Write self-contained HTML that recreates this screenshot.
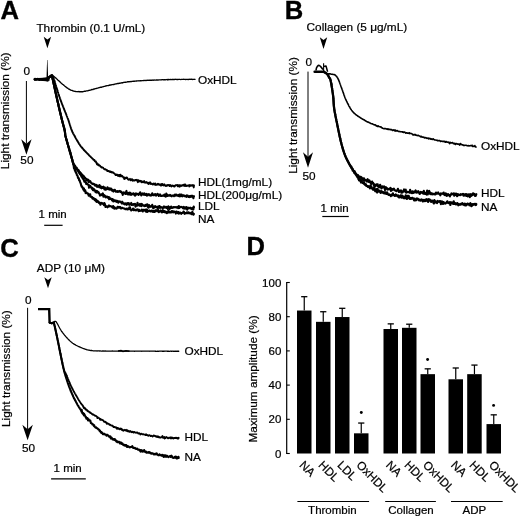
<!DOCTYPE html>
<html><head><meta charset="utf-8"><style>
html,body{margin:0;padding:0;background:#fff;}
svg{display:block;will-change:transform;}
text{font-family:"Liberation Sans",sans-serif;fill:#000;stroke:#000;stroke-width:0.22px;}
</style></head><body>
<svg width="520" height="517" viewBox="0 0 520 517">
<rect width="520" height="517" fill="#fff"/>
<text x="0.4" y="18.6" font-size="25.6" text-anchor="start" font-weight="bold" style="stroke-width:0.35px">A</text>
<text x="36.4" y="31.5" font-size="11.8" text-anchor="start" font-weight="normal" >Thrombin (0.1 U/mL)</text>
<path d="M43.699999999999996 36.7 L47.4 39.5 L51.1 36.7 L47.4 48.2 Z" fill="#000"/>
<text x="26.7" y="75.3" font-size="11.8" text-anchor="middle" font-weight="normal" >0</text>
<line x1="26.4" y1="81" x2="26.4" y2="143.7" stroke="#000" stroke-width="1"/>
<path d="M21.2 139.2 L26.4 143.7 L31.599999999999998 139.2 L26.4 154.8 Z" fill="#000"/>
<text x="26.9" y="164.4" font-size="11.8" text-anchor="middle" font-weight="normal" >50</text>
<text transform="translate(9.2,110.8) rotate(-90)" font-size="11.8" text-anchor="middle">Light transmission (%)</text>
<path d="M34.70 79.33 L35.01 79.38 L35.41 79.33 L35.88 79.17 L36.40 79.39 L36.98 79.34 L37.58 79.25 L38.19 79.36 L38.81 79.34 L39.42 79.33 L40.00 79.30 L40.49 79.36 L40.99 79.25 L41.52 79.33 L42.06 79.32 L42.60 79.45 L43.14 79.42 L43.68 79.40 L44.20 79.36 L44.69 79.40 L45.17 79.40 L45.60 79.34 L46.00 79.43 L46.68 79.21 L47.24 78.57 L47.71 78.33 L48.14 78.16 L48.56 77.78 L49.00 77.52 L49.44 77.16 L49.85 76.93 L50.24 76.19 L50.65 75.90 L51.10 75.88 L51.60 75.66 L52.00 75.71 L52.39 75.70 L52.80 75.75 L53.23 76.16 L53.70 76.45 L54.23 76.69 L54.82 77.20 L55.50 77.79 L55.80 77.95 L56.12 78.30 L56.45 78.61 L56.80 78.92 L57.16 79.20 L57.53 79.66 L57.91 80.05 L58.30 80.36 L58.70 80.63 L59.11 81.17 L59.52 81.44 L59.93 81.97 L60.35 82.17 L60.76 82.76 L61.18 83.05 L61.59 83.30 L62.00 83.76 L62.41 84.15 L62.81 84.51 L63.20 84.70 L63.63 85.03 L64.06 85.51 L64.50 85.79 L64.93 86.21 L65.36 86.60 L65.80 86.70 L66.23 87.22 L66.67 87.65 L67.10 87.81 L67.53 88.07 L67.97 88.53 L68.40 88.77 L68.84 89.12 L69.27 89.26 L69.70 89.40 L70.14 89.77 L70.57 89.95 L71.00 90.28 L71.52 90.44 L72.03 90.45 L72.55 90.67 L73.06 91.03 L73.57 91.14 L74.09 91.12 L74.60 91.29 L75.11 91.42 L75.62 91.49 L76.14 91.60 L76.65 91.59 L77.16 91.59 L77.67 91.61 L78.19 91.78 L78.70 91.47 L79.20 91.71 L79.68 91.74 L80.15 91.60 L80.60 91.78 L81.05 91.67 L81.50 91.80 L81.95 91.67 L82.42 91.71 L82.90 91.71 L83.40 91.56 L83.92 91.36 L84.48 91.20 L85.08 91.43 L85.72 91.12 L86.40 90.93 L86.79 90.94 L87.20 90.81 L87.63 90.82 L88.07 90.64 L88.53 90.53 L89.00 90.34 L89.48 90.34 L89.97 90.07 L90.48 90.11 L90.99 90.06 L91.50 89.62 L92.03 89.39 L92.55 89.55 L93.08 89.60 L93.61 89.11 L94.14 88.94 L94.67 88.98 L95.20 88.69 L95.72 88.58 L96.23 88.46 L96.74 88.41 L97.24 88.18 L97.74 88.12 L98.22 87.94 L98.68 87.75 L99.14 87.69 L99.58 87.51 L100.00 87.50 L100.59 87.24 L101.15 87.10 L101.68 87.22 L102.18 86.94 L102.66 86.82 L103.13 86.76 L103.58 86.55 L104.03 86.45 L104.47 86.41 L104.91 86.29 L105.35 86.03 L105.81 86.12 L106.28 85.87 L106.76 85.71 L107.27 85.61 L107.80 85.55 L108.36 85.62 L108.96 85.22 L109.60 85.22 L110.01 84.90 L110.43 85.03 L110.87 85.03 L111.32 84.82 L111.78 84.69 L112.24 84.68 L112.72 84.63 L113.21 84.52 L113.70 84.55 L114.21 84.28 L114.71 84.10 L115.23 84.04 L115.75 83.94 L116.27 83.86 L116.79 83.74 L117.32 83.66 L117.85 83.37 L118.38 83.52 L118.91 83.28 L119.44 83.13 L119.97 83.21 L120.49 83.18 L121.02 83.01 L121.54 82.88 L122.05 82.68 L122.56 82.98 L123.06 82.69 L123.56 82.41 L124.05 82.37 L124.53 82.38 L125.00 82.14 L125.53 82.24 L126.05 82.10 L126.55 82.20 L127.05 82.10 L127.54 81.67 L128.02 81.88 L128.49 81.66 L128.96 81.87 L129.43 81.72 L129.89 81.70 L130.36 81.49 L130.82 81.73 L131.28 81.70 L131.75 81.35 L132.21 81.44 L132.69 81.29 L133.16 81.31 L133.65 81.15 L134.14 81.42 L134.64 81.09 L135.15 81.12 L135.68 81.16 L136.21 81.00 L136.76 81.00 L137.32 80.93 L137.90 80.93 L138.50 80.78 L138.93 80.83 L139.38 80.82 L139.82 80.78 L140.28 80.79 L140.74 80.73 L141.21 80.80 L141.69 80.67 L142.17 80.66 L142.65 80.58 L143.15 80.57 L143.64 80.47 L144.14 80.62 L144.65 80.43 L145.15 80.44 L145.67 80.53 L146.18 80.51 L146.70 80.41 L147.22 80.22 L147.74 80.44 L148.27 80.40 L148.80 80.21 L149.32 80.41 L149.85 80.24 L150.38 80.18 L150.91 80.28 L151.44 80.23 L151.97 80.24 L152.50 80.04 L153.03 80.36 L153.56 80.10 L154.08 79.99 L154.61 80.18 L155.13 80.06 L155.65 80.11 L156.17 80.03 L156.68 80.03 L157.19 80.04 L157.70 79.93 L158.21 80.05 L158.71 79.91 L159.22 79.85 L159.73 79.93 L160.23 79.95 L160.74 79.86 L161.25 79.78 L161.76 79.91 L162.27 79.65 L162.78 79.70 L163.29 79.79 L163.80 79.63 L164.31 79.75 L164.82 79.73 L165.33 79.80 L165.84 79.60 L166.35 79.62 L166.86 79.69 L167.37 79.40 L167.88 79.94 L168.39 79.54 L168.89 79.52 L169.40 79.67 L169.91 79.56 L170.41 79.37 L170.92 79.60 L171.42 79.61 L171.93 79.46 L172.43 79.47 L172.93 79.53 L173.43 79.38 L173.93 79.50 L174.43 79.47 L174.93 79.37 L175.42 79.29 L175.92 79.39 L176.41 79.32 L176.90 79.50 L177.42 79.41 L177.96 79.46 L178.50 79.39 L179.06 79.40 L179.62 79.29 L180.19 79.43 L180.76 79.54 L181.34 79.33 L181.93 79.30 L182.51 79.34 L183.10 79.31 L183.69 79.29 L184.27 79.37 L184.86 79.33 L185.44 79.50 L186.01 79.36 L186.58 79.39 L187.15 79.46 L187.71 79.33 L188.26 79.51 L188.80 79.31 L189.33 79.29 L189.84 79.34 L190.35 79.37 L190.84 79.24 L191.31 79.38 L191.77 79.22 L192.22 79.53 L192.64 79.38 L193.04 79.33 L193.43 79.30 L193.79 79.36 L194.13 79.38 L194.44 79.29 L194.74 79.31 L195.00 79.38" fill="none" stroke="#000" stroke-width="1.35" stroke-linejoin="round" stroke-linecap="round" />
<path d="M34.70 79.32 L35.01 79.26 L35.41 79.27 L35.88 79.10 L36.40 79.44 L36.98 79.39 L37.58 79.27 L38.19 79.36 L38.81 79.32 L39.42 79.26 L40.00 79.38 L40.49 79.28 L40.99 79.29 L41.52 79.28 L42.06 79.40 L42.60 79.38 L43.14 79.46 L43.68 79.38 L44.20 79.44 L44.69 79.36 L45.17 79.47 L45.60 79.38 L46.00 79.33 L46.68 79.14 L47.24 78.76 L47.71 78.58 L48.14 78.34 L48.56 77.70 L49.00 77.36 L49.47 77.02 L49.93 76.80 L50.38 76.33 L50.81 76.04 L51.22 75.76 L51.60 75.62 L51.92 75.45 L52.10 75.15 L52.30 75.24 L52.65 75.73 L53.30 77.47 L53.40 77.79 L53.50 78.21 L53.61 78.32 L53.72 78.62 L53.84 79.01 L53.96 79.50 L54.08 79.78 L54.21 80.30 L54.34 80.46 L54.48 81.12 L54.62 81.55 L54.76 81.81 L54.90 82.39 L55.05 82.95 L55.20 83.35 L55.36 83.91 L55.51 84.53 L55.67 84.87 L55.83 85.35 L55.99 85.83 L56.15 86.48 L56.32 86.95 L56.49 87.49 L56.65 88.04 L56.82 88.65 L56.99 89.07 L57.17 89.58 L57.34 90.07 L57.51 90.91 L57.69 91.38 L57.86 92.04 L58.04 92.47 L58.21 92.97 L58.38 93.61 L58.56 94.11 L58.73 94.55 L58.91 95.11 L59.08 95.85 L59.25 96.26 L59.43 96.77 L59.60 97.22 L59.77 97.68 L59.93 98.30 L60.10 98.69 L60.27 99.12 L60.45 99.66 L60.62 100.08 L60.80 100.66 L60.99 101.23 L61.17 101.57 L61.36 102.25 L61.55 102.58 L61.74 103.15 L61.93 103.57 L62.12 104.12 L62.32 104.64 L62.52 105.11 L62.71 105.59 L62.91 106.09 L63.11 106.58 L63.31 107.02 L63.50 107.62 L63.70 108.17 L63.90 108.71 L64.10 109.18 L64.29 109.82 L64.49 110.13 L64.68 110.55 L64.87 111.22 L65.07 111.46 L65.25 112.10 L65.44 112.41 L65.63 112.98 L65.81 113.26 L65.99 113.94 L66.17 114.30 L66.35 114.68 L66.52 115.33 L66.69 115.69 L66.85 116.05 L67.02 116.40 L67.17 116.87 L67.33 117.26 L67.48 117.73 L67.62 118.12 L67.76 118.38 L67.90 118.76 L68.14 119.43 L68.37 120.01 L68.59 120.69 L68.80 121.33 L68.99 121.98 L69.17 122.59 L69.35 122.97 L69.52 123.60 L69.68 124.03 L69.83 124.73 L69.98 125.04 L70.12 125.55 L70.26 125.89 L70.39 126.34 L70.53 126.86 L70.66 127.23 L70.79 127.70 L70.92 127.95 L71.05 128.52 L71.18 128.79 L71.32 129.38 L71.46 129.60 L71.60 130.09 L71.85 130.51 L72.08 131.21 L72.29 131.60 L72.49 132.08 L72.69 132.54 L72.89 132.90 L73.09 133.33 L73.30 133.75 L73.52 134.13 L73.75 134.49 L74.01 134.84 L74.29 135.38 L74.60 135.98 L74.81 136.20 L75.02 136.83 L75.25 137.15 L75.48 137.57 L75.72 138.10 L75.96 138.53 L76.21 138.94 L76.47 139.31 L76.73 139.88 L77.00 140.35 L77.27 140.73 L77.54 141.36 L77.82 141.79 L78.10 142.06 L78.38 142.69 L78.67 143.04 L78.95 143.69 L79.24 144.11 L79.53 144.39 L79.81 144.82 L80.10 145.31 L80.42 145.71 L80.73 146.28 L81.05 146.62 L81.37 146.94 L81.69 147.40 L82.01 147.58 L82.34 148.15 L82.67 148.57 L83.00 148.86 L83.34 149.18 L83.68 149.66 L84.02 150.14 L84.37 150.37 L84.73 150.64 L85.09 151.23 L85.46 151.35 L85.83 151.93 L86.21 152.24 L86.60 152.77 L86.93 152.98 L87.28 153.51 L87.63 153.80 L88.00 154.01 L88.38 154.38 L88.76 154.90 L89.16 155.42 L89.55 155.72 L89.95 156.11 L90.35 156.48 L90.75 156.95 L91.15 157.31 L91.54 157.69 L91.94 157.98 L92.32 158.53 L92.70 158.91 L93.07 159.06 L93.43 159.71 L93.77 159.92 L94.10 160.05 L94.42 159.94 L94.72 161.01 L95.00 161.27 L95.48 161.42 L95.87 161.51 L96.21 162.79 L96.49 162.64 L96.75 163.01 L96.99 164.33 L97.24 164.42 L97.51 164.38 L97.81 164.27 L98.17 164.94 L98.59 164.42 L99.10 165.53 L99.43 165.51 L99.77 165.60 L100.13 165.77 L100.50 166.66 L100.89 166.79 L101.29 167.07 L101.70 167.55 L102.12 167.31 L102.56 167.47 L103.00 167.58 L103.46 168.29 L103.92 168.89 L104.40 168.90 L104.88 169.41 L105.37 169.14 L105.86 169.63 L106.36 169.81 L106.86 169.94 L107.37 171.14 L107.88 171.10 L108.40 170.87 L108.82 171.08 L109.26 171.50 L109.71 171.30 L110.17 172.07 L110.64 171.45 L111.12 172.17 L111.60 172.02 L112.09 172.54 L112.59 172.28 L113.09 172.36 L113.59 172.91 L114.10 173.28 L114.61 173.70 L115.11 174.11 L115.62 175.12 L116.12 174.93 L116.62 174.54 L117.12 175.27 L117.61 174.69 L118.09 176.06 L118.57 175.75 L119.04 174.88 L119.50 176.22 L119.94 176.42 L120.38 174.66 L120.80 175.89 L121.35 176.25 L121.88 175.65 L122.39 176.31 L122.88 176.56 L123.35 177.54 L123.81 177.59 L124.26 179.03 L124.70 177.52 L125.14 178.52 L125.58 178.08 L126.02 178.33 L126.46 177.68 L126.92 177.41 L127.38 178.17 L127.86 179.15 L128.36 179.74 L128.88 179.34 L129.43 179.43 L130.00 178.84 L130.43 180.25 L130.88 180.25 L131.34 179.33 L131.80 179.70 L132.28 179.28 L132.76 180.74 L133.25 180.26 L133.75 180.09 L134.25 180.47 L134.76 180.59 L135.27 180.22 L135.79 179.86 L136.31 179.94 L136.84 179.79 L137.36 181.10 L137.89 182.16 L138.42 180.10 L138.95 181.21 L139.48 181.46 L140.00 180.79 L140.53 181.54 L141.05 180.92 L141.57 182.28 L142.08 181.38 L142.60 181.86 L143.10 182.28 L143.60 181.76 L144.10 181.10 L144.60 181.89 L145.10 182.70 L145.60 182.33 L146.10 182.60 L146.60 181.97 L147.10 182.74 L147.60 183.16 L148.10 182.87 L148.60 184.00 L149.10 182.92 L149.60 182.56 L150.10 182.33 L150.60 183.95 L151.10 183.37 L151.60 184.05 L152.10 183.83 L152.60 184.55 L153.10 184.44 L153.60 183.62 L154.10 184.05 L154.60 184.58 L155.10 183.38 L155.60 184.93 L156.10 184.87 L156.59 184.81 L157.07 184.22 L157.54 184.57 L157.99 183.85 L158.44 184.56 L158.88 184.27 L159.31 184.70 L159.74 184.43 L160.17 184.92 L160.60 185.47 L161.03 184.15 L161.47 185.43 L161.91 183.88 L162.37 183.84 L162.83 185.01 L163.30 185.12 L163.80 185.41 L164.30 184.30 L164.83 185.22 L165.38 185.36 L165.95 186.02 L166.54 185.31 L167.16 185.69 L167.81 184.90 L168.49 185.37 L169.20 185.25 L169.60 185.90 L170.01 184.99 L170.45 185.09 L170.90 185.88 L171.37 186.56 L171.85 185.80 L172.35 185.76 L172.86 185.42 L173.38 186.22 L173.92 185.93 L174.46 186.59 L175.02 185.83 L175.58 185.14 L176.16 185.35 L176.74 185.13 L177.32 184.99 L177.91 186.38 L178.51 186.14 L179.11 185.02 L179.71 186.69 L180.31 185.85 L180.91 185.19 L181.52 185.94 L182.12 185.69 L182.72 185.31 L183.31 184.67 L183.91 185.76 L184.49 185.91 L185.07 184.33 L185.65 186.06 L186.21 186.09 L186.77 185.50 L187.32 185.82 L187.86 185.61 L188.38 185.30 L188.89 185.57 L189.39 186.51 L189.88 184.97 L190.35 185.91 L190.80 185.88 L191.24 185.39 L191.66 185.54 L192.06 185.01 L192.43 185.32 L192.79 185.80 L193.13 185.97 L193.44 185.30 L193.73 187.48 L194.00 185.49" fill="none" stroke="#000" stroke-width="1.9" stroke-linejoin="round" stroke-linecap="round" />
<path d="M34.70 79.71 L35.01 78.79 L35.41 79.38 L35.88 79.19 L36.40 79.21 L36.98 79.26 L37.58 78.90 L38.19 79.25 L38.81 79.13 L39.42 79.96 L40.00 79.35 L40.49 79.24 L40.99 79.26 L41.52 79.21 L42.06 79.16 L42.60 79.31 L43.14 79.51 L43.68 79.38 L44.20 79.62 L44.69 79.39 L45.17 79.41 L45.60 79.67 L46.00 79.41 L46.68 79.00 L47.24 78.80 L47.71 78.63 L48.14 78.56 L48.56 77.77 L49.00 77.45 L49.48 77.33 L49.96 76.52 L50.42 76.23 L50.87 75.93 L51.26 75.67 L51.60 75.61 L51.82 75.66 L51.93 75.43 L51.99 75.79 L52.07 76.09 L52.26 76.95 L52.60 78.62 L52.67 78.93 L52.74 79.18 L52.81 79.47 L52.89 79.88 L52.97 80.24 L53.06 80.71 L53.15 81.07 L53.24 81.45 L53.33 81.94 L53.43 82.30 L53.53 82.71 L53.63 83.27 L53.73 83.74 L53.84 84.18 L53.95 84.65 L54.06 85.22 L54.17 85.57 L54.28 86.28 L54.39 86.80 L54.51 87.21 L54.63 87.86 L54.75 88.34 L54.86 89.00 L54.98 89.38 L55.10 90.01 L55.22 90.66 L55.34 91.25 L55.47 91.61 L55.59 92.27 L55.71 92.88 L55.83 93.38 L55.95 94.06 L56.07 94.44 L56.19 95.08 L56.31 95.54 L56.43 96.22 L56.54 96.66 L56.66 97.16 L56.77 97.60 L56.89 98.31 L57.00 98.75 L57.11 99.24 L57.22 99.76 L57.34 100.21 L57.45 100.66 L57.57 101.16 L57.69 101.67 L57.81 102.32 L57.93 102.67 L58.05 103.24 L58.17 103.78 L58.29 104.34 L58.41 104.89 L58.53 105.30 L58.65 105.80 L58.77 106.43 L58.90 107.03 L59.02 107.53 L59.14 108.02 L59.26 108.51 L59.38 109.06 L59.50 109.55 L59.62 110.13 L59.74 110.54 L59.86 111.11 L59.98 111.60 L60.10 112.13 L60.22 112.61 L60.33 113.24 L60.45 113.66 L60.56 114.14 L60.67 114.40 L60.78 114.96 L60.89 115.40 L61.00 115.92 L61.11 116.20 L61.21 116.84 L61.31 117.26 L61.41 117.53 L61.51 117.96 L61.61 118.36 L61.70 118.80 L61.86 119.51 L62.02 120.24 L62.18 120.73 L62.34 121.39 L62.49 121.93 L62.64 122.59 L62.78 123.08 L62.92 123.64 L63.06 124.01 L63.19 124.55 L63.32 125.00 L63.45 125.60 L63.57 126.01 L63.69 126.39 L63.81 126.81 L63.92 127.29 L64.03 127.63 L64.14 128.02 L64.24 128.50 L64.33 129.01 L64.43 129.23 L64.52 129.59 L64.60 129.93 L64.74 130.59 L64.85 131.29 L64.93 131.84 L64.99 132.26 L65.03 132.72 L65.07 133.13 L65.11 133.54 L65.15 133.86 L65.20 134.36 L65.27 134.88 L65.37 135.35 L65.50 135.97 L65.60 136.36 L65.70 136.82 L65.81 137.33 L65.93 137.72 L66.06 138.20 L66.19 138.74 L66.32 139.22 L66.46 139.78 L66.61 140.06 L66.75 140.75 L66.90 141.19 L67.05 141.74 L67.21 142.30 L67.36 142.83 L67.51 143.35 L67.66 143.81 L67.81 144.40 L67.96 144.79 L68.10 145.29 L68.24 145.84 L68.39 146.25 L68.53 146.90 L68.68 147.32 L68.83 147.88 L68.97 148.24 L69.12 148.70 L69.27 149.23 L69.42 149.75 L69.57 150.19 L69.72 150.69 L69.87 151.17 L70.02 151.72 L70.17 152.12 L70.31 152.70 L70.46 153.09 L70.61 153.55 L70.75 154.05 L70.90 154.48 L71.04 155.11 L71.17 155.71 L71.30 156.10 L71.42 156.66 L71.53 157.32 L71.64 157.61 L71.76 158.10 L71.87 158.52 L71.98 158.75 L72.10 159.72 L72.23 159.68 L72.36 160.69 L72.50 161.03 L72.65 161.80 L72.81 161.99 L72.98 162.27 L73.17 163.06 L73.38 163.27 L73.60 163.85 L73.83 164.35 L74.06 164.73 L74.31 165.14 L74.58 165.35 L74.85 165.99 L75.13 165.73 L75.42 166.85 L75.71 166.88 L76.02 168.16 L76.33 168.64 L76.65 167.79 L76.97 169.03 L77.30 169.33 L77.64 169.34 L77.98 170.42 L78.32 170.39 L78.66 170.20 L79.01 171.28 L79.35 171.73 L79.70 172.25 L80.03 171.99 L80.38 173.27 L80.73 173.73 L81.08 173.17 L81.44 173.80 L81.81 174.49 L82.18 174.62 L82.55 176.26 L82.93 175.81 L83.31 175.52 L83.69 176.02 L84.07 176.81 L84.46 178.55 L84.84 177.47 L85.23 178.01 L85.61 178.60 L86.00 178.60 L86.38 180.38 L86.75 178.95 L87.13 180.07 L87.50 180.00 L87.93 180.64 L88.36 179.79 L88.79 182.05 L89.22 181.10 L89.64 181.49 L90.07 181.11 L90.50 181.52 L90.92 182.67 L91.35 183.23 L91.78 183.31 L92.20 183.88 L92.63 183.77 L93.06 183.51 L93.48 184.33 L93.91 184.38 L94.34 184.09 L94.77 184.92 L95.20 185.55 L95.68 185.01 L96.16 184.80 L96.64 185.83 L97.11 186.93 L97.59 185.56 L98.06 185.85 L98.54 186.01 L99.02 187.22 L99.50 185.11 L99.98 186.94 L100.47 187.74 L100.96 186.41 L101.46 188.31 L101.97 187.76 L102.48 187.12 L103.00 187.85 L103.47 186.70 L103.95 187.57 L104.43 189.50 L104.92 187.59 L105.42 189.78 L105.92 188.46 L106.42 189.40 L106.93 188.81 L107.44 187.22 L107.95 188.59 L108.46 189.28 L108.97 188.40 L109.48 188.37 L109.99 189.78 L110.50 189.14 L111.00 188.48 L111.50 189.36 L112.00 190.65 L112.49 189.77 L112.98 190.96 L113.47 191.54 L113.96 190.55 L114.45 189.82 L114.93 189.83 L115.42 190.92 L115.90 191.74 L116.39 191.41 L116.87 191.76 L117.36 191.15 L117.84 191.83 L118.33 191.38 L118.82 191.61 L119.31 191.01 L119.81 190.91 L120.30 191.84 L120.80 191.47 L121.29 191.68 L121.77 192.99 L122.24 192.50 L122.70 194.85 L123.15 193.44 L123.60 192.35 L124.06 193.48 L124.52 193.24 L124.98 192.53 L125.46 193.94 L125.95 192.60 L126.45 190.95 L126.98 193.90 L127.52 192.90 L128.10 194.54 L128.70 193.00 L129.33 192.66 L130.00 194.76 L130.40 192.83 L130.82 193.82 L131.24 194.79 L131.68 193.82 L132.12 193.70 L132.58 193.87 L133.04 194.45 L133.51 193.24 L133.99 194.33 L134.47 194.33 L134.97 195.68 L135.46 193.70 L135.97 193.29 L136.48 194.56 L136.99 193.73 L137.51 194.27 L138.03 194.18 L138.56 194.98 L139.09 193.64 L139.62 194.08 L140.15 192.26 L140.69 193.53 L141.22 195.37 L141.76 193.73 L142.30 193.74 L142.83 193.37 L143.37 194.75 L143.91 194.47 L144.44 193.46 L144.97 194.88 L145.50 194.60 L145.98 194.99 L146.44 193.96 L146.91 195.76 L147.36 194.78 L147.81 194.40 L148.25 194.12 L148.69 194.34 L149.13 195.18 L149.57 194.35 L150.00 195.38 L150.44 195.02 L150.88 195.61 L151.32 195.22 L151.76 194.58 L152.20 193.21 L152.66 194.88 L153.11 195.26 L153.58 194.81 L154.05 195.12 L154.53 194.36 L155.02 194.44 L155.52 194.04 L156.03 195.78 L156.56 194.90 L157.09 194.43 L157.65 193.82 L158.21 194.72 L158.80 195.94 L159.40 195.22 L160.02 194.36 L160.66 195.99 L161.32 196.02 L162.00 195.71 L162.70 195.59 L163.10 195.88 L163.51 195.44 L163.94 195.63 L164.38 194.48 L164.84 196.21 L165.30 195.28 L165.78 196.64 L166.28 193.61 L166.78 195.69 L167.29 195.92 L167.81 194.95 L168.34 195.57 L168.88 195.81 L169.43 195.70 L169.99 194.89 L170.55 195.21 L171.12 196.11 L171.69 196.32 L172.27 195.46 L172.86 195.47 L173.44 195.59 L174.04 196.24 L174.63 194.70 L175.23 194.52 L175.83 195.63 L176.43 194.73 L177.03 195.15 L177.63 195.68 L178.23 196.00 L178.83 194.86 L179.42 196.29 L180.02 194.38 L180.61 196.15 L181.20 194.58 L181.79 194.83 L182.37 196.29 L182.94 195.53 L183.51 195.26 L184.08 195.55 L184.63 196.26 L185.18 195.89 L185.72 195.93 L186.26 196.77 L186.78 195.46 L187.29 195.66 L187.80 195.65 L188.29 196.94 L188.77 196.82 L189.24 197.07 L189.70 196.09 L190.14 196.02 L190.57 196.80 L190.99 195.88 L191.39 196.81 L191.78 196.75 L192.15 195.70 L192.50 196.17 L192.84 196.16 L193.16 197.56 L193.46 198.22 L193.74 196.21 L194.00 196.31" fill="none" stroke="#000" stroke-width="2.1" stroke-linejoin="round" stroke-linecap="round" />
<path d="M34.70 79.17 L35.01 79.27 L35.41 79.63 L35.88 79.43 L36.40 78.97 L36.98 79.30 L37.58 79.18 L38.19 79.33 L38.81 78.98 L39.42 79.35 L40.00 79.35 L40.49 79.62 L40.99 79.38 L41.52 79.44 L42.06 79.07 L42.60 79.84 L43.14 79.03 L43.68 79.65 L44.20 79.37 L44.69 79.25 L45.17 79.27 L45.60 79.23 L46.00 79.38 L46.68 79.08 L47.24 79.13 L47.71 78.15 L48.14 78.17 L48.56 77.65 L49.00 77.66 L49.48 76.71 L49.96 76.62 L50.42 76.26 L50.87 75.79 L51.26 75.69 L51.60 75.61 L51.82 75.68 L51.93 75.66 L51.99 75.67 L52.07 76.10 L52.26 77.04 L52.60 78.64 L52.67 78.94 L52.74 79.16 L52.81 79.50 L52.89 79.83 L52.97 80.21 L53.06 80.62 L53.15 81.02 L53.24 81.56 L53.33 81.84 L53.43 82.29 L53.53 82.79 L53.63 83.17 L53.73 83.69 L53.84 84.20 L53.95 84.74 L54.06 85.12 L54.17 85.80 L54.28 86.22 L54.39 86.78 L54.51 87.36 L54.63 87.89 L54.75 88.46 L54.86 88.96 L54.98 89.50 L55.10 90.08 L55.22 90.56 L55.34 91.25 L55.47 91.69 L55.59 92.22 L55.71 92.98 L55.83 93.40 L55.95 93.90 L56.07 94.63 L56.19 95.04 L56.31 95.67 L56.43 96.09 L56.54 96.65 L56.66 97.09 L56.77 97.59 L56.89 98.15 L57.00 98.70 L57.11 99.24 L57.22 99.84 L57.34 100.13 L57.45 100.76 L57.57 101.17 L57.69 101.71 L57.81 102.15 L57.93 102.67 L58.05 103.23 L58.17 103.73 L58.29 104.33 L58.41 104.81 L58.53 105.45 L58.65 105.91 L58.77 106.44 L58.90 107.03 L59.02 107.51 L59.14 108.00 L59.26 108.52 L59.38 109.04 L59.50 109.63 L59.62 110.13 L59.74 110.61 L59.86 111.15 L59.98 111.57 L60.10 112.13 L60.22 112.51 L60.33 113.17 L60.45 113.57 L60.56 114.06 L60.67 114.55 L60.78 114.98 L60.89 115.43 L61.00 115.96 L61.11 116.34 L61.21 116.71 L61.31 117.22 L61.41 117.51 L61.51 118.12 L61.61 118.40 L61.70 118.80 L61.86 119.60 L62.02 120.24 L62.18 120.75 L62.34 121.38 L62.49 121.99 L62.64 122.59 L62.78 123.02 L62.92 123.57 L63.06 124.14 L63.19 124.58 L63.32 125.09 L63.45 125.55 L63.57 125.90 L63.69 126.36 L63.81 126.68 L63.92 127.25 L64.03 127.75 L64.14 128.01 L64.24 128.55 L64.33 128.92 L64.43 129.24 L64.52 129.62 L64.60 130.00 L64.74 130.62 L64.85 131.25 L64.93 131.79 L64.99 132.30 L65.03 132.75 L65.07 133.07 L65.11 133.58 L65.15 133.90 L65.20 134.38 L65.27 134.89 L65.37 135.40 L65.50 135.99 L65.60 136.43 L65.70 136.81 L65.81 137.24 L65.93 137.73 L66.06 138.27 L66.19 138.69 L66.32 139.30 L66.46 139.70 L66.61 140.01 L66.75 140.67 L66.90 141.31 L67.05 141.73 L67.21 142.22 L67.36 142.72 L67.51 143.36 L67.66 143.86 L67.81 144.35 L67.96 144.83 L68.10 145.39 L68.24 145.84 L68.39 146.21 L68.53 146.81 L68.68 147.27 L68.83 147.74 L68.97 148.28 L69.12 148.73 L69.27 149.04 L69.42 149.80 L69.57 150.20 L69.72 150.68 L69.87 151.16 L70.02 151.67 L70.17 152.09 L70.31 152.66 L70.46 153.12 L70.61 153.59 L70.75 154.03 L70.90 154.53 L71.04 155.21 L71.17 155.74 L71.30 156.14 L71.42 156.55 L71.54 156.92 L71.65 157.66 L71.76 158.31 L71.88 158.23 L72.00 159.24 L72.12 159.07 L72.24 159.93 L72.37 160.57 L72.51 160.66 L72.66 161.09 L72.82 162.00 L73.00 162.68 L73.18 162.80 L73.38 163.80 L73.60 163.67 L73.81 164.88 L74.04 164.82 L74.28 165.29 L74.53 165.86 L74.79 166.20 L75.06 167.19 L75.34 167.77 L75.62 167.61 L75.92 167.78 L76.21 167.82 L76.51 168.42 L76.82 169.16 L77.12 169.54 L77.43 170.00 L77.74 170.45 L78.04 171.10 L78.34 170.69 L78.64 171.26 L78.93 172.69 L79.22 172.99 L79.50 172.74 L79.79 174.09 L80.08 173.54 L80.36 174.20 L80.65 173.81 L80.93 175.68 L81.21 175.66 L81.49 176.71 L81.78 176.96 L82.06 177.05 L82.34 177.53 L82.62 178.58 L82.90 178.20 L83.18 178.63 L83.47 179.19 L83.75 180.07 L84.04 180.56 L84.33 181.61 L84.61 180.71 L84.91 181.99 L85.20 181.08 L85.55 182.36 L85.89 182.45 L86.23 183.99 L86.57 183.59 L86.91 183.22 L87.25 184.34 L87.60 184.54 L87.94 184.41 L88.29 184.78 L88.65 184.65 L89.01 187.77 L89.37 186.14 L89.74 187.11 L90.12 185.85 L90.50 186.24 L90.90 187.28 L91.30 187.63 L91.69 188.66 L92.09 187.63 L92.50 189.11 L92.92 190.16 L93.35 188.65 L93.78 190.34 L94.21 189.24 L94.66 190.53 L95.10 190.85 L95.55 192.19 L96.00 190.67 L96.44 191.61 L96.89 192.55 L97.34 191.18 L97.79 192.33 L98.23 191.96 L98.67 192.35 L99.10 193.65 L99.56 193.93 L100.03 195.61 L100.50 194.96 L100.97 195.15 L101.45 194.30 L101.93 194.44 L102.40 195.01 L102.88 193.43 L103.35 196.60 L103.81 195.08 L104.27 195.00 L104.72 195.67 L105.16 196.88 L105.59 197.36 L106.01 196.35 L106.41 197.16 L106.80 196.98 L107.35 196.58 L107.85 197.73 L108.30 197.90 L108.72 196.98 L109.13 199.21 L109.53 197.45 L109.95 199.05 L110.39 198.32 L110.87 198.73 L111.40 199.05 L112.00 200.35 L112.40 199.02 L112.82 199.97 L113.25 201.42 L113.71 199.88 L114.17 200.53 L114.65 201.19 L115.14 200.40 L115.64 201.34 L116.15 200.63 L116.66 201.79 L117.18 201.45 L117.70 200.84 L118.23 202.73 L118.75 201.74 L119.27 201.73 L119.78 201.37 L120.30 201.84 L120.80 202.24 L121.29 202.56 L121.77 203.37 L122.24 201.66 L122.70 202.49 L123.15 203.76 L123.60 203.09 L124.06 203.36 L124.52 204.35 L124.98 203.50 L125.46 203.69 L125.95 203.40 L126.45 204.85 L126.98 204.41 L127.52 203.18 L128.10 204.22 L128.70 203.05 L129.33 204.82 L130.00 204.61 L130.40 204.05 L130.82 203.93 L131.24 202.94 L131.68 204.92 L132.12 204.32 L132.58 204.24 L133.04 205.08 L133.51 204.10 L133.99 204.22 L134.47 204.20 L134.97 203.77 L135.46 206.66 L135.97 204.77 L136.48 204.72 L136.99 205.72 L137.51 202.74 L138.03 205.15 L138.56 205.24 L139.09 204.56 L139.62 205.70 L140.15 203.89 L140.69 205.48 L141.22 206.19 L141.76 203.91 L142.30 204.54 L142.83 205.56 L143.37 205.71 L143.91 205.29 L144.44 206.09 L144.97 206.05 L145.50 204.90 L145.98 205.88 L146.44 205.04 L146.91 204.48 L147.36 204.27 L147.81 206.89 L148.25 206.07 L148.69 207.68 L149.13 205.15 L149.57 206.03 L150.00 206.59 L150.44 206.27 L150.88 206.80 L151.32 206.58 L151.76 206.05 L152.20 204.81 L152.66 205.89 L153.11 207.94 L153.58 207.27 L154.05 207.77 L154.53 206.34 L155.02 206.68 L155.52 206.21 L156.03 207.20 L156.56 206.99 L157.09 207.33 L157.65 208.35 L158.21 206.44 L158.80 207.65 L159.40 206.08 L160.02 208.00 L160.66 206.88 L161.32 207.19 L162.00 207.38 L162.70 208.54 L163.10 207.30 L163.51 206.97 L163.94 206.47 L164.38 207.59 L164.84 206.75 L165.30 207.04 L165.78 207.41 L166.28 207.95 L166.78 206.93 L167.29 207.98 L167.81 208.83 L168.34 206.40 L168.88 208.55 L169.43 209.16 L169.99 207.12 L170.55 208.04 L171.12 206.56 L171.69 207.87 L172.27 207.38 L172.86 207.87 L173.44 206.97 L174.04 207.05 L174.63 207.35 L175.23 207.16 L175.83 207.24 L176.43 207.57 L177.03 206.90 L177.63 207.63 L178.23 208.12 L178.83 206.03 L179.42 207.93 L180.02 207.23 L180.61 206.96 L181.20 206.80 L181.79 207.18 L182.37 207.27 L182.94 208.10 L183.51 206.91 L184.08 208.65 L184.63 207.26 L185.18 208.40 L185.72 208.72 L186.26 207.00 L186.78 208.73 L187.29 209.59 L187.80 207.64 L188.29 208.43 L188.77 207.91 L189.24 208.08 L189.70 207.90 L190.14 207.68 L190.57 208.61 L190.99 208.75 L191.39 208.10 L191.78 209.25 L192.15 208.94 L192.50 208.66 L192.84 207.61 L193.16 209.58 L193.46 209.16 L193.74 206.56 L194.00 207.35" fill="none" stroke="#000" stroke-width="2.1" stroke-linejoin="round" stroke-linecap="round" />
<path d="M34.70 79.14 L35.01 79.04 L35.41 79.25 L35.88 79.38 L36.40 79.53 L36.98 79.32 L37.58 79.19 L38.19 79.14 L38.81 79.45 L39.42 79.63 L40.00 79.35 L40.49 79.06 L40.99 79.13 L41.52 79.66 L42.06 79.41 L42.60 79.04 L43.14 79.40 L43.68 79.19 L44.20 79.31 L44.69 79.33 L45.17 79.26 L45.60 79.47 L46.00 79.29 L46.68 78.99 L47.24 78.92 L47.71 78.68 L48.14 77.85 L48.56 77.78 L49.00 77.30 L49.48 77.10 L49.96 76.43 L50.42 76.25 L50.87 75.87 L51.26 75.62 L51.60 75.54 L51.82 75.59 L51.93 75.54 L51.99 75.64 L52.07 76.17 L52.26 76.99 L52.60 78.67 L52.67 78.93 L52.74 79.08 L52.81 79.55 L52.89 79.82 L52.97 80.25 L53.06 80.63 L53.15 80.91 L53.24 81.43 L53.33 81.85 L53.43 82.37 L53.53 82.69 L53.63 83.28 L53.73 83.64 L53.84 84.18 L53.95 84.65 L54.06 85.29 L54.17 85.75 L54.28 86.39 L54.39 86.81 L54.51 87.36 L54.63 87.90 L54.75 88.36 L54.86 88.95 L54.98 89.59 L55.10 90.04 L55.22 90.63 L55.34 91.18 L55.47 91.78 L55.59 92.28 L55.71 92.85 L55.83 93.43 L55.95 93.97 L56.07 94.46 L56.19 95.12 L56.31 95.52 L56.43 96.07 L56.54 96.59 L56.66 97.24 L56.77 97.68 L56.89 98.15 L57.00 98.63 L57.11 99.22 L57.22 99.63 L57.34 100.12 L57.45 100.74 L57.57 101.14 L57.69 101.70 L57.81 102.24 L57.93 102.73 L58.05 103.28 L58.17 103.88 L58.29 104.30 L58.41 104.78 L58.53 105.27 L58.65 105.89 L58.77 106.41 L58.90 106.97 L59.02 107.45 L59.14 107.98 L59.26 108.48 L59.38 109.02 L59.50 109.57 L59.62 110.06 L59.74 110.60 L59.86 111.21 L59.98 111.63 L60.10 112.01 L60.22 112.70 L60.33 113.11 L60.45 113.51 L60.56 114.10 L60.67 114.52 L60.78 114.95 L60.89 115.40 L61.00 115.83 L61.11 116.34 L61.21 116.83 L61.31 117.17 L61.41 117.63 L61.51 118.13 L61.61 118.34 L61.70 118.82 L61.86 119.45 L62.02 120.05 L62.18 120.68 L62.34 121.34 L62.49 121.95 L62.64 122.45 L62.78 123.03 L62.92 123.60 L63.06 124.09 L63.19 124.62 L63.32 125.07 L63.45 125.54 L63.57 126.08 L63.69 126.45 L63.81 126.85 L63.92 127.30 L64.03 127.62 L64.14 128.06 L64.24 128.52 L64.33 128.90 L64.43 129.34 L64.52 129.63 L64.60 129.91 L64.74 130.79 L64.85 131.33 L64.93 131.72 L64.99 132.35 L65.03 132.70 L65.07 133.01 L65.11 133.50 L65.15 133.92 L65.20 134.49 L65.27 134.82 L65.37 135.39 L65.50 135.98 L65.60 136.39 L65.70 136.79 L65.82 137.30 L65.94 137.81 L66.07 138.25 L66.20 138.64 L66.34 139.11 L66.48 139.69 L66.63 140.15 L66.77 140.66 L66.93 141.11 L67.08 141.85 L67.23 142.31 L67.38 142.71 L67.53 143.34 L67.68 143.88 L67.82 144.16 L67.96 144.77 L68.10 145.28 L68.23 145.83 L68.37 146.29 L68.51 146.79 L68.64 147.31 L68.78 147.93 L68.91 148.47 L69.05 148.82 L69.19 149.31 L69.32 150.04 L69.45 150.38 L69.59 150.88 L69.72 151.39 L69.85 151.90 L69.98 152.41 L70.11 152.86 L70.23 153.23 L70.36 153.78 L70.48 154.20 L70.60 154.79 L70.77 155.18 L70.94 155.57 L71.10 156.12 L71.26 156.96 L71.42 157.15 L71.57 157.35 L71.73 158.05 L71.88 158.60 L72.02 159.29 L72.17 159.31 L72.31 160.14 L72.46 160.66 L72.60 160.84 L72.73 161.44 L72.84 162.43 L72.94 162.93 L73.04 163.20 L73.14 163.55 L73.23 164.30 L73.33 164.43 L73.43 164.95 L73.54 165.22 L73.66 166.04 L73.80 166.56 L73.94 168.16 L74.11 167.64 L74.30 168.80 L74.44 169.25 L74.59 169.06 L74.75 170.05 L74.92 169.06 L75.09 170.47 L75.26 171.25 L75.44 170.22 L75.63 171.22 L75.82 172.72 L76.02 172.56 L76.22 172.60 L76.43 173.43 L76.64 173.82 L76.85 174.96 L77.07 175.31 L77.29 175.41 L77.51 175.69 L77.74 176.54 L77.97 177.85 L78.20 177.81 L78.39 178.41 L78.57 178.37 L78.76 178.11 L78.95 178.92 L79.15 180.25 L79.34 180.37 L79.54 180.19 L79.74 180.19 L79.94 181.84 L80.14 182.02 L80.35 182.51 L80.56 183.01 L80.77 183.95 L80.98 184.45 L81.20 185.44 L81.42 185.91 L81.65 186.69 L81.88 186.77 L82.11 186.38 L82.35 187.05 L82.59 187.90 L82.84 187.74 L83.09 188.81 L83.34 189.67 L83.60 188.60 L83.92 188.33 L84.24 191.00 L84.58 190.55 L84.92 191.49 L85.27 190.37 L85.63 193.08 L85.99 192.72 L86.36 192.46 L86.73 192.67 L87.11 193.39 L87.49 193.54 L87.87 193.82 L88.26 193.53 L88.64 195.67 L89.03 195.03 L89.41 195.45 L89.79 195.79 L90.17 194.28 L90.55 196.76 L90.93 196.44 L91.30 196.78 L91.73 197.41 L92.16 196.99 L92.60 198.69 L93.03 197.88 L93.46 198.05 L93.90 198.41 L94.33 199.49 L94.77 200.23 L95.20 199.53 L95.63 199.14 L96.07 201.35 L96.50 200.04 L96.94 202.01 L97.37 201.34 L97.80 201.12 L98.24 201.42 L98.67 202.50 L99.10 203.07 L99.57 202.52 L100.02 203.64 L100.46 204.74 L100.88 203.26 L101.30 202.78 L101.72 203.07 L102.14 203.03 L102.56 203.80 L103.00 203.94 L103.46 203.68 L103.93 205.27 L104.43 203.10 L104.97 204.26 L105.54 206.94 L106.15 206.39 L106.80 206.19 L107.20 206.25 L107.62 207.34 L108.06 206.52 L108.51 206.28 L108.98 205.40 L109.47 206.37 L109.97 205.97 L110.48 206.09 L111.00 206.19 L111.53 206.79 L112.07 206.67 L112.61 207.67 L113.16 206.11 L113.71 207.07 L114.26 208.69 L114.81 207.41 L115.35 208.37 L115.90 208.41 L116.43 208.63 L116.97 208.27 L117.49 206.77 L118.00 207.68 L118.51 207.67 L119.00 206.87 L119.47 207.75 L119.93 207.23 L120.38 206.99 L120.80 208.46 L121.42 208.36 L122.00 207.96 L122.54 207.84 L123.05 208.21 L123.53 208.39 L123.99 208.43 L124.44 208.75 L124.87 208.51 L125.31 209.17 L125.74 209.32 L126.19 209.23 L126.64 208.51 L127.12 208.59 L127.62 209.42 L128.16 208.99 L128.73 209.16 L129.34 207.37 L130.00 207.27 L130.40 209.59 L130.82 209.62 L131.24 210.45 L131.68 209.99 L132.12 209.65 L132.58 209.54 L133.04 208.49 L133.51 210.27 L133.99 209.19 L134.47 210.06 L134.97 209.87 L135.46 209.97 L135.97 210.47 L136.48 209.48 L136.99 209.60 L137.51 209.28 L138.03 209.68 L138.56 211.26 L139.09 209.78 L139.62 210.98 L140.15 210.75 L140.69 210.71 L141.22 210.81 L141.76 209.48 L142.30 210.56 L142.83 211.51 L143.37 209.84 L143.91 210.36 L144.44 209.91 L144.97 210.70 L145.50 209.69 L145.98 211.74 L146.44 210.28 L146.91 209.43 L147.36 211.96 L147.81 211.37 L148.25 211.05 L148.69 211.09 L149.13 210.44 L149.57 210.57 L150.00 211.30 L150.44 211.47 L150.88 211.50 L151.32 210.98 L151.76 210.49 L152.20 210.72 L152.66 211.72 L153.11 211.99 L153.58 210.67 L154.05 210.59 L154.53 211.91 L155.02 211.54 L155.52 211.54 L156.03 210.06 L156.56 210.79 L157.09 210.71 L157.65 211.28 L158.21 209.89 L158.80 212.14 L159.40 211.44 L160.02 211.58 L160.66 210.40 L161.32 211.30 L162.00 212.36 L162.70 210.22 L163.10 211.65 L163.51 211.97 L163.94 210.95 L164.38 212.11 L164.84 211.28 L165.30 212.47 L165.78 211.98 L166.28 211.78 L166.78 213.15 L167.29 212.29 L167.81 212.68 L168.34 210.84 L168.88 211.28 L169.43 212.43 L169.99 212.51 L170.55 211.82 L171.12 212.49 L171.69 211.14 L172.27 212.13 L172.86 211.15 L173.44 212.30 L174.04 211.71 L174.63 211.63 L175.23 212.19 L175.83 213.55 L176.43 211.46 L177.03 211.81 L177.63 213.10 L178.23 212.02 L178.83 213.70 L179.42 212.57 L180.02 212.51 L180.61 212.75 L181.20 213.82 L181.79 213.04 L182.37 212.97 L182.94 212.81 L183.51 211.48 L184.08 212.03 L184.63 213.84 L185.18 213.38 L185.72 213.17 L186.26 213.30 L186.78 212.45 L187.29 213.14 L187.80 212.24 L188.29 213.24 L188.77 212.44 L189.24 212.85 L189.70 213.38 L190.14 212.82 L190.57 213.58 L190.99 213.46 L191.39 213.41 L191.78 214.16 L192.15 212.08 L192.50 212.01 L192.84 213.69 L193.16 213.95 L193.46 214.78 L193.74 213.85 L194.00 213.92" fill="none" stroke="#000" stroke-width="2.1" stroke-linejoin="round" stroke-linecap="round" />
<path d="M34.6 78.6 L40 78.3 L44.5 77.7 L48.6 77.2 L49.6 80.2 L47.8 81.5 L44.5 80.8 L40 80 L34.6 79.5 Z" fill="#000" stroke="#000" stroke-width="0.4" stroke-linejoin="round"/>
<path d="M46.5 79 L47.1 60.1 L47.5 60.1 L48.2 79 Z" fill="#000"/>
<text x="198" y="84" font-size="11.8" text-anchor="start" font-weight="normal" >OxHDL</text>
<text x="198" y="185.8" font-size="11.8" text-anchor="start" font-weight="normal" >HDL(1mg/mL)</text>
<text x="198" y="198.9" font-size="11.8" text-anchor="start" font-weight="normal" >HDL(200μg/mL)</text>
<text x="198" y="209.8" font-size="11.8" text-anchor="start" font-weight="normal" >LDL</text>
<text x="198" y="222.6" font-size="11.8" text-anchor="start" font-weight="normal" >NA</text>
<text x="38.6" y="218.3" font-size="11.5" text-anchor="start" font-weight="normal" >1 min</text>
<line x1="44.2" y1="225.3" x2="62.6" y2="225.3" stroke="#000" stroke-width="1.2"/>
<text x="284.8" y="18.5" font-size="25.6" text-anchor="start" font-weight="bold" style="stroke-width:0.35px">B</text>
<text x="306.6" y="30.6" font-size="11.8" text-anchor="start" font-weight="normal" >Collagen (5 μg/mL)</text>
<path d="M319.8 37.3 L323.5 40.099999999999994 L327.2 37.3 L323.5 48.9 Z" fill="#000"/>
<text x="308.8" y="66.3" font-size="11.8" text-anchor="middle" font-weight="normal" >0</text>
<line x1="308.0" y1="71.6" x2="308.0" y2="156.79999999999998" stroke="#000" stroke-width="1"/>
<path d="M303.0 152.2 L308.0 156.79999999999998 L313.0 152.2 L308.0 167.7 Z" fill="#000"/>
<text x="309.1" y="180.4" font-size="11.8" text-anchor="middle" font-weight="normal" >50</text>
<text transform="translate(296.8,115.5) rotate(-90)" font-size="11.8" text-anchor="middle">Light transmission (%)</text>
<path d="M323.50 71.80 L323.86 72.08 L324.39 72.31 L324.97 72.46 L325.50 72.78 L325.97 73.12 L326.42 73.63 L326.86 73.96 L327.30 74.26 L327.79 74.02 L328.27 74.05 L329.00 73.79 L329.40 73.88 L329.88 73.86 L330.40 73.91 L330.96 74.06 L331.52 74.18 L332.06 74.19 L332.56 74.29 L333.00 74.45 L333.57 74.44 L334.05 74.47 L334.48 74.73 L334.91 74.86 L335.40 75.15 L335.69 75.51 L335.99 75.81 L336.29 76.06 L336.59 76.38 L336.91 76.90 L337.23 77.43 L337.57 77.88 L337.93 78.48 L338.30 79.33 L338.46 79.71 L338.62 80.00 L338.79 80.47 L338.96 80.93 L339.14 81.28 L339.32 81.69 L339.50 82.26 L339.69 82.75 L339.87 83.33 L340.06 83.65 L340.25 84.23 L340.44 84.75 L340.63 85.21 L340.82 85.90 L341.01 86.47 L341.20 86.90 L341.39 87.60 L341.58 88.08 L341.76 88.58 L341.94 89.06 L342.12 89.60 L342.30 89.89 L342.48 90.54 L342.65 91.02 L342.82 91.30 L342.99 91.95 L343.15 92.37 L343.31 92.91 L343.46 93.28 L343.62 93.77 L343.78 94.26 L343.93 94.63 L344.09 95.20 L344.26 95.61 L344.42 96.12 L344.59 96.50 L344.77 97.09 L344.95 97.53 L345.14 97.94 L345.34 98.48 L345.55 99.01 L345.77 99.55 L346.00 99.77 L346.20 100.40 L346.41 100.80 L346.62 101.20 L346.84 101.58 L347.06 102.22 L347.29 102.49 L347.52 103.10 L347.76 103.64 L348.00 103.88 L348.24 104.46 L348.49 104.86 L348.74 105.46 L349.00 106.04 L349.25 106.55 L349.51 106.71 L349.78 107.27 L350.04 107.83 L350.31 108.34 L350.57 108.68 L350.84 109.01 L351.11 109.51 L351.38 109.89 L351.66 110.26 L351.93 110.59 L352.20 111.03 L352.56 111.47 L352.92 111.85 L353.27 112.24 L353.64 112.53 L354.00 112.96 L354.36 113.44 L354.73 113.65 L355.10 113.87 L355.48 114.40 L355.86 114.63 L356.25 115.05 L356.64 115.17 L357.04 115.42 L357.44 115.62 L357.86 116.13 L358.28 116.51 L358.71 116.53 L359.15 116.84 L359.60 117.25 L360.00 117.40 L360.40 117.72 L360.82 117.98 L361.24 118.29 L361.67 118.63 L362.10 118.82 L362.54 119.16 L362.99 119.32 L363.44 119.64 L363.90 119.71 L364.36 120.03 L364.82 120.47 L365.28 120.61 L365.75 120.96 L366.22 121.21 L366.69 121.52 L367.16 121.72 L367.63 121.97 L368.10 122.12 L368.57 122.30 L369.04 122.52 L369.50 122.76 L369.97 122.92 L370.46 123.18 L370.95 123.43 L371.46 123.66 L371.98 123.82 L372.50 123.89 L373.02 124.24 L373.55 124.45 L374.07 124.71 L374.60 124.86 L375.12 124.80 L375.63 124.95 L376.14 125.95 L376.64 125.74 L377.12 126.23 L377.59 126.48 L378.04 125.75 L378.48 126.26 L378.89 126.43 L379.29 126.60 L379.66 126.73 L380.00 126.76 L380.68 127.05 L381.01 126.76 L381.15 127.33 L381.22 127.29 L381.40 127.69 L381.82 127.69 L382.64 128.25 L384.00 128.65 L384.30 128.56 L384.62 128.63 L384.95 128.64 L385.29 128.55 L385.65 128.71 L386.03 128.68 L386.41 129.03 L386.81 128.99 L387.22 129.24 L387.65 128.75 L388.08 129.50 L388.53 129.09 L388.98 129.18 L389.45 129.43 L389.92 129.41 L390.41 129.76 L390.90 129.59 L391.40 129.53 L391.91 129.70 L392.43 130.44 L392.95 130.15 L393.48 129.89 L394.02 130.34 L394.56 129.97 L395.11 131.08 L395.66 130.18 L396.21 130.89 L396.77 131.01 L397.33 130.52 L397.89 131.15 L398.46 131.47 L399.03 131.42 L399.60 131.47 L400.17 131.78 L400.74 131.66 L401.31 131.82 L401.88 131.80 L402.44 132.14 L403.01 131.78 L403.58 132.42 L404.14 132.15 L404.70 132.09 L405.25 132.65 L405.81 133.17 L406.36 133.07 L406.90 132.75 L407.35 133.21 L407.81 132.97 L408.27 133.18 L408.73 133.35 L409.19 132.74 L409.66 133.60 L410.13 133.35 L410.60 133.56 L411.07 133.45 L411.55 133.55 L412.02 133.85 L412.50 134.50 L412.98 134.87 L413.46 134.49 L413.95 134.94 L414.43 134.66 L414.92 134.29 L415.40 135.04 L415.89 135.26 L416.38 135.12 L416.87 135.47 L417.37 135.68 L417.86 135.38 L418.36 135.32 L418.85 135.83 L419.35 135.97 L419.84 136.05 L420.34 136.59 L420.84 136.94 L421.34 136.43 L421.84 136.89 L422.34 137.10 L422.84 137.16 L423.34 137.39 L423.84 137.09 L424.34 137.55 L424.84 138.07 L425.35 137.83 L425.85 137.53 L426.35 138.03 L426.85 138.35 L427.35 138.20 L427.85 138.05 L428.35 138.80 L428.85 138.09 L429.35 138.73 L429.85 138.70 L430.34 138.46 L430.84 139.30 L431.34 139.15 L431.83 138.81 L432.32 139.46 L432.82 139.26 L433.31 138.92 L433.80 139.39 L434.30 139.79 L434.81 140.01 L435.31 139.97 L435.83 140.04 L436.34 140.27 L436.86 140.18 L437.38 140.70 L437.90 140.49 L438.43 140.64 L438.96 140.82 L439.49 140.45 L440.02 140.65 L440.55 141.43 L441.09 141.17 L441.62 141.09 L442.16 141.38 L442.69 141.23 L443.23 141.56 L443.77 141.37 L444.30 141.75 L444.84 141.30 L445.37 142.27 L445.91 141.81 L446.44 141.59 L446.97 142.09 L447.50 142.14 L448.03 142.39 L448.56 142.09 L449.08 142.65 L449.60 143.71 L450.12 142.33 L450.64 142.90 L451.15 142.79 L451.66 143.03 L452.17 142.52 L452.67 142.80 L453.17 143.37 L453.66 143.30 L454.15 143.89 L454.64 143.27 L455.12 143.61 L455.59 144.51 L456.06 143.49 L456.52 143.52 L456.98 143.86 L457.43 143.93 L457.88 144.27 L458.32 144.13 L458.75 143.94 L459.17 144.30 L459.59 145.09 L460.00 144.75 L460.41 143.60 L460.80 144.46 L461.50 144.35 L462.19 144.91 L462.87 144.77 L463.53 145.51 L464.19 145.30 L464.84 145.38 L465.47 145.26 L466.10 145.28 L466.71 145.48 L467.30 145.84 L467.89 145.69 L468.46 145.50 L469.02 146.06 L469.56 145.80 L470.09 145.78 L470.60 145.63 L471.10 145.76 L471.58 145.79 L472.05 145.20 L472.50 146.39 L472.93 146.31 L473.34 146.12 L473.74 146.54 L474.12 146.41 L474.48 146.43 L474.83 145.61 L475.15 146.32 L475.45 146.59 L475.74 146.95 L476.00 147.05" fill="none" stroke="#000" stroke-width="1.6" stroke-linejoin="round" stroke-linecap="round" />
<path d="M323.50 71.80 L323.86 72.05 L324.39 72.27 L324.97 72.56 L325.50 72.93 L325.97 72.99 L326.42 73.32 L326.86 73.62 L327.30 74.19 L327.59 74.68 L327.87 75.06 L328.16 75.60 L328.44 75.94 L328.72 76.66 L329.00 77.13 L329.24 77.73 L329.47 77.93 L329.69 78.18 L329.92 78.43 L330.16 78.98 L330.42 79.74 L330.70 80.77 L330.77 81.08 L330.84 81.46 L330.92 81.79 L330.99 82.19 L331.07 82.63 L331.16 83.03 L331.24 83.60 L331.32 83.89 L331.41 84.57 L331.50 84.95 L331.58 85.47 L331.67 85.93 L331.76 86.57 L331.85 87.10 L331.94 87.68 L332.03 88.18 L332.11 88.79 L332.20 89.49 L332.29 89.94 L332.37 90.42 L332.45 91.10 L332.53 91.57 L332.61 92.17 L332.69 92.72 L332.77 93.17 L332.84 93.57 L332.91 94.21 L332.98 94.79 L333.04 95.20 L333.10 95.74 L333.17 96.33 L333.23 96.75 L333.28 97.42 L333.33 97.97 L333.37 98.44 L333.41 98.96 L333.45 99.45 L333.48 100.04 L333.51 100.37 L333.54 100.85 L333.57 101.39 L333.59 101.76 L333.62 102.20 L333.65 102.74 L333.68 103.34 L333.71 103.84 L333.75 104.18 L333.78 104.66 L333.83 105.30 L333.87 105.83 L333.93 106.37 L333.98 106.97 L334.05 107.56 L334.12 108.05 L334.20 108.65 L334.27 108.97 L334.34 109.42 L334.41 110.00 L334.49 110.50 L334.57 110.98 L334.65 111.45 L334.73 111.95 L334.82 112.44 L334.91 112.72 L335.00 113.30 L335.09 113.89 L335.19 114.40 L335.29 114.73 L335.39 115.45 L335.49 115.83 L335.59 116.36 L335.69 116.91 L335.79 117.46 L335.90 117.80 L336.01 118.51 L336.11 118.96 L336.22 119.41 L336.33 119.97 L336.44 120.34 L336.54 120.99 L336.65 121.58 L336.76 122.03 L336.87 122.58 L336.98 123.12 L337.09 123.66 L337.19 124.26 L337.30 124.70 L337.40 125.16 L337.50 125.71 L337.59 126.32 L337.69 126.62 L337.80 127.19 L337.90 127.52 L338.00 128.26 L338.10 128.71 L338.20 129.28 L338.31 129.68 L338.41 130.11 L338.52 130.78 L338.62 131.29 L338.73 131.68 L338.83 132.14 L338.94 132.81 L339.05 133.28 L339.15 134.02 L339.26 134.27 L339.37 134.79 L339.48 135.33 L339.59 135.71 L339.69 136.28 L339.80 136.98 L339.91 137.33 L340.02 137.79 L340.13 138.22 L340.24 138.85 L340.35 139.33 L340.46 139.77 L340.56 140.18 L340.67 140.70 L340.78 141.15 L340.89 141.51 L341.00 142.05 L341.15 142.41 L341.29 143.04 L341.44 143.68 L341.58 144.25 L341.72 144.71 L341.87 145.37 L342.01 145.95 L342.15 146.43 L342.30 146.93 L342.44 147.48 L342.58 147.95 L342.73 148.33 L342.87 148.90 L343.02 149.50 L343.17 149.79 L343.32 150.36 L343.47 150.80 L343.62 151.22 L343.77 151.68 L343.93 152.23 L344.08 152.70 L344.24 153.15 L344.40 153.46 L344.57 153.99 L344.73 154.49 L344.90 154.98 L345.10 155.47 L345.31 155.99 L345.51 156.50 L345.73 156.97 L345.94 157.32 L346.16 157.87 L346.37 158.27 L346.60 158.60 L346.82 159.11 L347.04 159.87 L347.27 160.14 L347.50 160.53 L347.72 160.99 L347.95 161.55 L348.18 161.88 L348.41 162.34 L348.65 162.69 L348.88 163.13 L349.11 163.75 L349.34 164.11 L349.57 164.37 L349.80 164.98 L350.06 165.52 L350.32 165.70 L350.58 166.29 L350.84 166.76 L351.10 166.95 L351.35 167.99 L351.61 168.01 L351.87 168.30 L352.13 168.33 L352.39 168.90 L352.65 170.48 L352.92 169.77 L353.20 170.88 L353.48 170.92 L353.77 171.74 L354.06 172.19 L354.37 171.86 L354.68 172.48 L355.00 173.05 L355.37 173.46 L355.76 173.75 L356.17 173.95 L356.58 174.88 L357.00 175.67 L357.44 175.52 L357.88 175.01 L358.32 176.07 L358.77 176.16 L359.21 176.73 L359.66 178.01 L360.10 176.83 L360.54 177.25 L360.97 176.87 L361.39 177.57 L361.80 177.61 L362.20 179.54 L362.69 178.85 L363.14 178.43 L363.56 180.71 L363.95 178.29 L364.34 180.32 L364.73 180.67 L365.13 180.51 L365.55 180.01 L366.00 180.34 L366.49 180.39 L367.03 181.60 L367.63 179.22 L368.30 181.07 L368.66 181.79 L369.04 181.34 L369.44 180.46 L369.85 181.98 L370.28 181.74 L370.72 183.25 L371.17 183.96 L371.63 183.03 L372.10 181.53 L372.58 183.22 L373.07 182.81 L373.56 184.38 L374.06 185.45 L374.57 184.49 L375.08 186.16 L375.59 185.93 L376.10 185.44 L376.61 184.32 L377.12 185.43 L377.63 184.31 L378.14 186.62 L378.65 186.03 L379.14 187.28 L379.64 186.53 L380.12 184.81 L380.60 187.17 L381.09 187.57 L381.58 188.35 L382.08 186.26 L382.57 186.45 L383.06 187.43 L383.55 186.61 L384.04 186.47 L384.54 186.84 L385.03 190.09 L385.52 187.47 L386.01 187.26 L386.50 187.85 L387.00 188.35 L387.49 189.55 L387.98 189.37 L388.47 189.34 L388.96 188.82 L389.46 189.02 L389.95 188.44 L390.44 187.81 L390.93 190.92 L391.42 188.90 L391.92 190.25 L392.41 189.22 L392.90 189.51 L393.41 189.55 L393.92 188.61 L394.42 189.81 L394.93 190.29 L395.43 190.76 L395.93 190.57 L396.42 191.10 L396.92 190.57 L397.42 190.40 L397.92 188.81 L398.42 190.10 L398.92 191.96 L399.42 190.82 L399.93 191.46 L400.43 190.68 L400.94 190.36 L401.46 192.74 L401.98 191.38 L402.50 192.41 L403.03 191.66 L403.56 191.02 L404.10 189.43 L404.65 191.48 L405.20 190.14 L405.67 189.64 L406.13 192.63 L406.59 192.24 L407.03 192.22 L407.48 191.76 L407.92 191.73 L408.35 192.17 L408.79 191.98 L409.22 191.95 L409.66 192.56 L410.11 189.88 L410.55 192.76 L411.01 191.50 L411.47 192.80 L411.94 193.11 L412.42 191.43 L412.92 192.86 L413.43 192.88 L413.95 191.64 L414.49 191.82 L415.05 192.41 L415.63 190.45 L416.23 192.00 L416.85 192.58 L417.50 192.09 L418.17 191.15 L418.87 192.23 L419.60 193.90 L419.99 193.76 L420.39 192.56 L420.79 192.00 L421.20 192.70 L421.62 192.76 L422.05 192.20 L422.48 192.52 L422.92 193.37 L423.37 193.66 L423.82 190.82 L424.28 193.76 L424.74 193.08 L425.21 193.97 L425.68 193.01 L426.16 193.43 L426.65 194.49 L427.14 190.60 L427.63 194.51 L428.13 193.35 L428.64 191.68 L429.14 190.99 L429.65 193.56 L430.17 192.45 L430.68 194.22 L431.21 193.58 L431.73 193.32 L432.26 194.31 L432.79 193.66 L433.32 194.16 L433.85 194.27 L434.39 193.87 L434.92 194.31 L435.46 194.34 L436.00 192.54 L436.55 193.50 L437.09 193.67 L437.63 193.48 L438.18 192.48 L438.72 193.38 L439.27 194.19 L439.81 194.09 L440.36 195.26 L440.90 193.48 L441.44 193.65 L441.99 193.57 L442.53 193.81 L443.07 193.60 L443.61 192.55 L444.14 194.46 L444.68 195.04 L445.21 195.18 L445.74 193.33 L446.27 194.11 L446.80 195.87 L447.29 194.23 L447.78 194.64 L448.28 194.24 L448.80 195.25 L449.32 195.24 L449.84 196.41 L450.38 194.88 L450.92 194.86 L451.46 193.47 L452.02 194.17 L452.58 193.95 L453.14 194.29 L453.70 193.47 L454.27 195.64 L454.85 193.73 L455.42 194.88 L456.00 193.60 L456.58 194.98 L457.17 196.12 L457.75 194.03 L458.33 195.06 L458.92 194.71 L459.50 195.03 L460.08 195.16 L460.66 194.28 L461.24 194.69 L461.82 194.36 L462.39 194.18 L462.97 193.85 L463.53 195.74 L464.10 194.30 L464.66 195.52 L465.21 195.44 L465.76 194.13 L466.30 195.89 L466.83 194.28 L467.36 195.57 L467.88 196.29 L468.40 194.45 L468.90 194.29 L469.40 194.29 L469.89 197.06 L470.36 194.80 L470.83 194.06 L471.29 195.84 L471.73 195.01 L472.17 195.14 L472.59 194.33 L473.00 193.30 L473.39 194.58 L473.78 194.33 L474.15 193.85 L474.50 194.31 L474.84 194.44 L475.16 195.94 L475.47 195.86 L475.77 195.71 L476.04 194.83 L476.30 194.22" fill="none" stroke="#000" stroke-width="2.2" stroke-linejoin="round" stroke-linecap="round" />
<path d="M323.50 71.95 L323.86 71.72 L324.39 72.29 L324.97 72.50 L325.50 72.91 L325.97 73.12 L326.42 73.52 L326.86 73.73 L327.30 74.16 L327.59 74.65 L327.87 75.09 L328.16 75.53 L328.44 76.08 L328.72 76.70 L329.00 77.26 L329.24 77.54 L329.47 77.83 L329.69 77.96 L329.92 78.57 L330.16 78.91 L330.42 79.79 L330.70 80.83 L330.77 81.28 L330.84 81.59 L330.92 81.87 L330.99 82.35 L331.07 82.58 L331.16 83.19 L331.24 83.43 L331.32 84.04 L331.41 84.59 L331.50 85.02 L331.58 85.49 L331.67 85.98 L331.76 86.55 L331.85 87.20 L331.94 87.74 L332.03 88.20 L332.11 88.68 L332.20 89.40 L332.29 89.79 L332.37 90.42 L332.45 90.96 L332.53 91.63 L332.61 92.14 L332.69 92.70 L332.77 93.22 L332.84 93.67 L332.91 94.28 L332.98 94.85 L333.04 95.23 L333.10 95.75 L333.17 96.24 L333.23 96.87 L333.28 97.37 L333.33 97.91 L333.37 98.38 L333.41 99.00 L333.45 99.34 L333.48 99.84 L333.51 100.31 L333.54 100.90 L333.57 101.29 L333.59 101.78 L333.62 102.38 L333.65 102.90 L333.68 103.35 L333.71 103.59 L333.75 104.23 L333.78 104.73 L333.83 105.23 L333.87 105.81 L333.93 106.52 L333.98 106.89 L334.05 107.41 L334.12 108.08 L334.20 108.61 L334.27 109.07 L334.34 109.46 L334.41 109.98 L334.49 110.49 L334.57 110.77 L334.65 111.27 L334.73 111.97 L334.82 112.44 L334.91 112.82 L335.00 113.27 L335.09 113.84 L335.19 114.25 L335.29 114.83 L335.39 115.49 L335.49 115.88 L335.59 116.47 L335.69 116.87 L335.79 117.43 L335.90 118.03 L336.01 118.33 L336.11 118.92 L336.22 119.46 L336.33 120.02 L336.44 120.64 L336.54 121.09 L336.65 121.44 L336.76 122.06 L336.87 122.54 L336.98 123.06 L337.09 123.82 L337.19 124.09 L337.30 124.72 L337.40 125.12 L337.50 125.73 L337.59 126.18 L337.69 126.66 L337.80 127.14 L337.90 127.74 L338.00 128.08 L338.10 128.60 L338.20 129.08 L338.31 129.79 L338.41 130.17 L338.52 130.63 L338.62 131.19 L338.73 131.94 L338.83 132.25 L338.94 132.85 L339.05 133.33 L339.15 133.81 L339.26 134.26 L339.37 134.80 L339.48 135.31 L339.59 135.67 L339.69 136.56 L339.80 136.92 L339.91 137.35 L340.02 137.82 L340.13 138.26 L340.24 138.88 L340.35 139.26 L340.46 139.79 L340.56 140.10 L340.67 140.70 L340.78 141.28 L340.89 141.54 L341.00 142.06 L341.15 142.58 L341.29 143.23 L341.44 143.79 L341.58 144.26 L341.72 144.76 L341.87 145.36 L342.01 145.87 L342.15 146.34 L342.30 146.94 L342.44 147.45 L342.58 147.85 L342.73 148.41 L342.87 149.15 L343.02 149.46 L343.17 149.89 L343.32 150.56 L343.47 150.79 L343.62 151.10 L343.77 151.61 L343.93 152.10 L344.08 152.69 L344.24 153.20 L344.40 153.40 L344.57 154.11 L344.73 154.36 L344.90 154.92 L345.10 155.45 L345.31 155.95 L345.51 156.42 L345.73 156.92 L345.94 157.30 L346.16 157.88 L346.37 158.41 L346.60 158.87 L346.82 159.46 L347.04 159.79 L347.27 160.15 L347.50 160.63 L347.72 161.03 L347.95 161.37 L348.18 161.70 L348.41 162.43 L348.65 162.79 L348.88 163.26 L349.11 163.51 L349.34 164.03 L349.57 164.74 L349.80 164.87 L350.07 165.02 L350.33 165.63 L350.60 166.56 L350.86 166.33 L351.13 166.31 L351.39 166.79 L351.66 167.50 L351.93 168.67 L352.20 168.84 L352.47 168.93 L352.74 169.12 L353.01 170.02 L353.29 170.41 L353.57 170.64 L353.85 171.20 L354.13 171.35 L354.42 173.09 L354.71 171.31 L355.00 173.07 L355.28 172.83 L355.56 174.23 L355.84 174.09 L356.13 174.88 L356.41 175.41 L356.70 175.63 L356.99 176.58 L357.28 175.37 L357.57 177.43 L357.87 177.01 L358.17 177.87 L358.47 179.18 L358.77 179.27 L359.08 180.37 L359.39 177.35 L359.70 178.77 L360.02 180.75 L360.34 179.34 L360.67 180.50 L361.00 182.45 L361.37 182.11 L361.73 180.90 L362.08 182.45 L362.44 182.94 L362.79 182.77 L363.15 182.93 L363.51 183.44 L363.88 182.34 L364.26 184.01 L364.64 183.37 L365.04 184.81 L365.45 185.12 L365.87 184.28 L366.32 185.85 L366.78 185.91 L367.26 185.87 L367.77 186.82 L368.30 186.23 L368.68 186.47 L369.08 187.00 L369.49 187.10 L369.92 188.34 L370.35 185.58 L370.80 187.55 L371.25 186.33 L371.72 187.82 L372.19 188.70 L372.67 188.71 L373.15 189.75 L373.64 189.42 L374.14 187.04 L374.64 188.64 L375.14 191.13 L375.64 191.35 L376.15 190.32 L376.65 189.12 L377.16 192.49 L377.66 189.06 L378.16 191.31 L378.66 191.19 L379.15 191.63 L379.64 190.60 L380.12 191.43 L380.60 192.85 L381.09 191.69 L381.58 191.09 L382.08 192.41 L382.57 192.64 L383.06 192.60 L383.55 192.18 L384.04 193.45 L384.54 193.01 L385.03 192.25 L385.52 193.56 L386.01 193.47 L386.50 193.74 L387.00 192.28 L387.49 193.19 L387.98 194.34 L388.47 194.86 L388.96 194.47 L389.46 194.42 L389.95 195.02 L390.44 195.34 L390.93 196.12 L391.42 195.13 L391.92 194.36 L392.41 195.36 L392.90 193.40 L393.39 195.23 L393.88 194.91 L394.36 195.38 L394.85 195.92 L395.33 195.65 L395.81 194.48 L396.28 195.51 L396.76 195.23 L397.24 196.00 L397.72 196.42 L398.20 195.39 L398.68 196.93 L399.16 197.51 L399.64 196.27 L400.13 197.21 L400.62 195.42 L401.11 196.31 L401.60 197.68 L402.10 195.45 L402.61 196.61 L403.11 196.37 L403.63 198.20 L404.14 198.29 L404.67 196.88 L405.20 197.60 L405.66 195.35 L406.10 198.37 L406.54 198.02 L406.97 198.92 L407.40 195.83 L407.83 198.23 L408.25 197.70 L408.67 195.85 L409.09 197.54 L409.51 198.13 L409.94 198.95 L410.37 198.50 L410.80 197.96 L411.24 198.84 L411.70 198.44 L412.16 198.04 L412.63 197.80 L413.11 198.86 L413.61 198.93 L414.12 200.44 L414.64 198.56 L415.19 200.38 L415.75 199.39 L416.34 200.17 L416.94 198.48 L417.57 198.59 L418.22 199.16 L418.90 200.27 L419.60 199.75 L419.99 200.29 L420.39 199.97 L420.79 200.63 L421.20 199.97 L421.62 199.41 L422.05 200.35 L422.48 200.05 L422.92 201.51 L423.37 199.95 L423.82 200.23 L424.28 199.94 L424.74 201.24 L425.21 201.06 L425.68 200.93 L426.16 199.38 L426.65 199.21 L427.14 200.79 L427.63 201.24 L428.13 201.95 L428.64 199.23 L429.14 200.67 L429.65 199.44 L430.17 200.13 L430.68 200.82 L431.21 201.89 L431.73 200.69 L432.26 200.59 L432.79 200.99 L433.32 202.40 L433.85 203.45 L434.39 200.15 L434.92 201.29 L435.46 201.22 L436.00 202.64 L436.55 202.08 L437.09 203.08 L437.63 200.98 L438.18 201.91 L438.72 201.57 L439.27 201.09 L439.81 201.95 L440.36 201.13 L440.90 204.05 L441.44 202.61 L441.99 201.45 L442.53 201.86 L443.07 203.90 L443.61 202.08 L444.14 203.13 L444.68 203.09 L445.21 203.58 L445.74 203.24 L446.27 202.57 L446.80 202.30 L447.29 201.34 L447.78 202.85 L448.28 203.05 L448.80 202.67 L449.32 202.90 L449.84 202.04 L450.38 204.96 L450.92 202.73 L451.46 202.32 L452.02 202.74 L452.58 203.15 L453.14 203.96 L453.70 201.31 L454.27 203.86 L454.85 202.94 L455.42 203.35 L456.00 204.41 L456.58 204.24 L457.17 203.06 L457.75 203.59 L458.33 205.31 L458.92 204.91 L459.50 204.54 L460.08 203.85 L460.66 204.70 L461.24 204.26 L461.82 203.49 L462.39 203.15 L462.97 204.48 L463.53 204.40 L464.10 205.14 L464.66 203.74 L465.21 205.37 L465.76 203.91 L466.30 205.32 L466.83 204.75 L467.36 203.83 L467.88 203.55 L468.40 204.29 L468.90 204.20 L469.40 205.25 L469.89 203.90 L470.36 203.26 L470.83 204.53 L471.29 206.21 L471.73 205.99 L472.17 204.10 L472.59 204.42 L473.00 204.95 L473.39 204.14 L473.78 204.53 L474.15 204.52 L474.50 203.89 L474.84 204.28 L475.16 204.41 L475.47 205.05 L475.77 203.86 L476.04 204.97 L476.30 204.07" fill="none" stroke="#000" stroke-width="2.2" stroke-linejoin="round" stroke-linecap="round" />
<path d="M314.6 71.8 L324 71.8" stroke="#000" stroke-width="2.4" stroke-linecap="round"/>
<path d="M316 70.5 C316.3 66.5, 318.3 64.8, 319.6 65.6 C320.8 66.3, 321.8 68, 323 69.6" fill="none" stroke="#000" stroke-width="1.6"/>
<path d="M323.6 63.2 L323.6 72" stroke="#000" stroke-width="1.1"/>
<path d="M323.6 66.6 L326 66 L327.6 71.8" fill="none" stroke="#000" stroke-width="1.5" stroke-linejoin="round"/>
<text x="481" y="149.7" font-size="11.8" text-anchor="start" font-weight="normal" >OxHDL</text>
<text x="481" y="197.1" font-size="11.8" text-anchor="start" font-weight="normal" >HDL</text>
<text x="481" y="210.6" font-size="11.8" text-anchor="start" font-weight="normal" >NA</text>
<text x="320.6" y="211.6" font-size="11.5" text-anchor="start" font-weight="normal" >1 min</text>
<line x1="322.3" y1="216.5" x2="348.8" y2="216.5" stroke="#000" stroke-width="1.2"/>
<text x="0.2" y="256.7" font-size="25.6" text-anchor="start" font-weight="bold" style="stroke-width:0.35px">C</text>
<text x="36.8" y="271.6" font-size="11.8" text-anchor="start" font-weight="normal" >ADP (10 μM)</text>
<path d="M44.3 277.2 L48 280.0 L51.7 277.2 L48 288.3 Z" fill="#000"/>
<text x="28.4" y="303.6" font-size="11.8" text-anchor="middle" font-weight="normal" >0</text>
<line x1="27.6" y1="307.8" x2="27.6" y2="429.3" stroke="#000" stroke-width="1"/>
<path d="M22.35 424.8 L27.6 429.3 L32.85 424.8 L27.6 440.2 Z" fill="#000"/>
<text x="28.5" y="452.1" font-size="11.8" text-anchor="middle" font-weight="normal" >50</text>
<text transform="translate(10,368.6) rotate(-90)" font-size="11.8" text-anchor="middle">Light transmission (%)</text>
<path d="M38 309.1 L49.2 309.1 L49.6 322.7" fill="none" stroke="#000" stroke-width="2.4"/>
<path d="M49.60 322.72 L50.03 322.92 L50.65 322.96 L51.32 323.32 L51.90 323.30 L52.44 323.09 L52.91 322.76 L53.50 322.45 L53.91 322.18 L54.33 321.75 L54.82 321.36 L55.42 321.34 L56.20 321.82 L56.39 322.05 L56.58 322.46 L56.78 322.73 L56.99 323.12 L57.20 323.42 L57.42 323.69 L57.64 324.21 L57.87 324.61 L58.11 325.04 L58.35 325.45 L58.60 325.97 L58.85 326.45 L59.11 327.00 L59.38 327.47 L59.65 328.05 L59.93 328.45 L60.22 329.03 L60.51 329.54 L60.81 329.98 L61.11 330.46 L61.42 331.06 L61.74 331.52 L62.07 331.95 L62.40 332.42 L62.69 332.74 L62.99 333.17 L63.30 333.52 L63.61 333.95 L63.93 334.39 L64.26 334.72 L64.59 335.18 L64.92 335.49 L65.27 335.93 L65.61 336.28 L65.97 336.75 L66.32 337.16 L66.68 337.55 L67.04 337.94 L67.41 338.42 L67.78 338.81 L68.15 339.07 L68.52 339.57 L68.90 339.80 L69.28 340.22 L69.65 340.61 L70.03 340.98 L70.41 341.27 L70.79 341.62 L71.17 341.99 L71.55 342.27 L71.92 342.57 L72.30 342.93 L72.74 343.28 L73.19 343.55 L73.66 343.86 L74.12 344.16 L74.60 344.43 L75.08 344.70 L75.56 344.95 L76.05 345.30 L76.54 345.51 L77.03 345.76 L77.52 346.01 L78.01 346.26 L78.49 346.53 L78.98 346.66 L79.46 346.86 L79.93 347.09 L80.40 347.24 L80.86 347.53 L81.31 347.70 L81.75 347.87 L82.18 348.00 L82.60 348.21 L83.01 348.39 L83.40 348.52 L84.00 348.73 L84.56 348.87 L85.09 349.20 L85.59 349.31 L86.07 349.45 L86.54 349.68 L86.99 349.78 L87.44 349.80 L87.89 349.98 L88.34 350.06 L88.79 350.22 L89.26 350.16 L89.75 350.32 L90.26 350.41 L90.80 350.57 L91.26 350.51 L91.72 350.48 L92.17 350.61 L92.63 350.73 L93.09 350.80 L93.56 350.88 L94.03 350.84 L94.50 350.81 L94.99 350.91 L95.48 350.89 L95.99 350.89 L96.51 350.92 L97.05 351.00 L97.60 350.90 L98.17 350.91 L98.76 350.97 L99.37 350.98 L100.00 350.96 L100.41 350.97 L100.80 351.04 L101.18 351.09 L101.56 351.07 L101.92 351.08 L102.29 351.11 L102.65 350.95 L103.01 350.98 L103.37 351.03 L103.74 351.01 L104.12 351.02 L104.51 351.07 L104.91 351.01 L105.33 351.05 L105.76 350.97 L106.21 351.03 L106.68 351.15 L107.18 351.05 L107.70 351.10 L108.26 351.12 L108.84 351.06 L109.46 351.11 L110.11 351.10 L110.80 351.12 L111.54 351.06 L112.31 351.02 L113.13 351.05 L114.00 351.07 L114.35 351.13 L114.71 351.09 L115.09 351.08 L115.47 351.10 L115.85 351.16 L116.25 351.08 L116.66 351.19 L117.07 351.05 L117.50 351.08 L117.93 351.16 L118.37 351.14 L118.81 351.07 L119.26 351.11 L119.72 351.08 L120.19 351.16 L120.66 351.15 L121.14 351.09 L121.62 351.15 L122.11 351.11 L122.61 351.13 L123.11 351.13 L123.61 351.10 L124.12 351.15 L124.64 351.16 L125.16 351.16 L125.68 351.19 L126.21 351.13 L126.74 351.07 L127.27 351.12 L127.81 351.15 L128.35 351.15 L128.89 351.18 L129.43 351.19 L129.98 351.14 L130.53 351.15 L131.08 351.10 L131.63 351.21 L132.18 351.14 L132.74 351.10 L133.29 351.10 L133.84 351.14 L134.40 351.24 L134.96 351.20 L135.51 351.08 L136.06 351.16 L136.62 351.18 L137.17 351.20 L137.72 351.19 L138.27 351.14 L138.82 351.19 L139.37 351.15 L139.91 351.06 L140.45 351.14 L140.99 351.14 L141.53 351.23 L142.06 351.23 L142.60 351.13 L143.12 351.19 L143.65 351.19 L144.16 351.11 L144.68 351.08 L145.19 351.18 L145.70 351.20 L146.20 351.16 L146.69 351.06 L147.18 351.19 L147.67 351.17 L148.15 351.15 L148.62 351.18 L149.09 351.14 L149.55 351.23 L150.00 351.20 L150.57 351.17 L151.14 351.22 L151.72 351.20 L152.30 351.13 L152.89 351.20 L153.47 351.18 L154.06 351.12 L154.65 351.18 L155.25 351.23 L155.84 351.18 L156.44 351.28 L157.03 351.30 L157.63 351.20 L158.22 351.24 L158.82 351.32 L159.41 351.20 L160.00 351.18 L160.60 351.20 L161.19 351.15 L161.77 351.16 L162.36 351.23 L162.94 351.20 L163.52 351.24 L164.09 351.25 L164.66 351.19 L165.23 351.22 L165.79 351.22 L166.35 351.20 L166.90 351.19 L167.45 351.25 L167.99 351.23 L168.52 351.25 L169.05 351.29 L169.56 351.29 L170.08 351.18 L170.58 351.19 L171.08 351.23 L171.56 351.25 L172.04 351.29 L172.51 351.19 L172.97 351.22 L173.42 351.25 L173.86 351.30 L174.29 351.31 L174.71 351.19 L175.12 351.23 L175.51 351.20 L175.90 351.29 L176.27 351.27 L176.63 351.23 L176.97 351.22 L177.30 351.26 L177.62 351.30 L177.93 351.21 L178.22 351.23 L178.49 351.26 L178.75 351.25" fill="none" stroke="#000" stroke-width="1.3" stroke-linejoin="round" stroke-linecap="round" />
<path d="M49.60 322.56 L50.03 322.72 L50.65 322.92 L51.32 323.17 L51.90 323.44 L52.51 322.87 L53.05 322.71 L53.50 322.63 L53.70 322.48 L53.81 322.50 L53.96 323.13 L54.30 324.62 L54.37 325.02 L54.45 325.21 L54.53 325.63 L54.62 325.80 L54.71 326.14 L54.80 326.47 L54.90 326.96 L55.00 327.48 L55.11 328.00 L55.21 328.33 L55.32 329.04 L55.44 329.46 L55.55 329.92 L55.67 330.44 L55.79 331.26 L55.91 331.63 L56.03 332.09 L56.15 332.65 L56.28 333.50 L56.40 333.84 L56.53 334.60 L56.65 335.21 L56.78 335.43 L56.91 336.38 L57.03 336.82 L57.15 337.32 L57.28 337.96 L57.40 338.66 L57.49 339.08 L57.59 339.55 L57.68 339.90 L57.78 340.57 L57.88 341.08 L57.98 341.61 L58.08 342.02 L58.18 342.62 L58.28 343.15 L58.39 343.53 L58.49 344.07 L58.59 344.57 L58.70 345.09 L58.81 345.66 L58.91 345.94 L59.02 346.61 L59.12 347.23 L59.23 347.51 L59.33 348.11 L59.44 348.95 L59.54 349.22 L59.65 349.81 L59.75 350.42 L59.86 350.86 L59.96 351.35 L60.06 351.90 L60.16 352.41 L60.26 352.90 L60.36 353.48 L60.46 354.11 L60.56 354.46 L60.65 355.06 L60.74 355.43 L60.84 355.90 L60.93 356.31 L61.01 356.65 L61.10 357.14 L61.23 357.76 L61.36 358.23 L61.48 359.03 L61.60 359.60 L61.72 360.17 L61.83 360.64 L61.95 361.00 L62.06 361.96 L62.17 362.34 L62.28 362.66 L62.38 363.46 L62.49 363.82 L62.59 364.45 L62.69 364.85 L62.80 365.45 L62.90 365.81 L63.00 366.26 L63.10 366.68 L63.20 367.21 L63.30 367.36 L63.40 368.01 L63.50 368.34 L63.60 368.59 L63.70 369.00 L63.91 369.64 L64.10 370.24 L64.27 370.76 L64.44 370.96 L64.61 371.41 L64.78 371.73 L64.97 372.01 L65.18 372.47 L65.42 372.74 L65.69 373.37 L66.00 374.25 L66.14 374.34 L66.29 374.68 L66.45 375.07 L66.61 375.51 L66.77 375.80 L66.94 376.25 L67.11 376.53 L67.28 377.05 L67.46 377.50 L67.65 377.95 L67.84 378.50 L68.03 379.09 L68.22 379.47 L68.42 379.88 L68.63 380.53 L68.84 381.03 L69.05 381.38 L69.26 382.05 L69.48 382.44 L69.70 383.00 L69.93 383.50 L70.16 384.17 L70.39 384.51 L70.62 385.07 L70.86 385.62 L71.10 386.20 L71.31 386.64 L71.52 386.84 L71.74 387.50 L71.96 387.85 L72.19 388.38 L72.42 388.82 L72.66 389.11 L72.90 389.63 L73.14 390.06 L73.39 390.59 L73.64 391.18 L73.89 391.49 L74.14 391.88 L74.40 392.67 L74.65 392.78 L74.91 393.34 L75.17 393.81 L75.42 394.14 L75.68 394.80 L75.94 395.28 L76.19 395.61 L76.45 396.07 L76.70 396.49 L76.95 396.75 L77.19 397.38 L77.44 397.64 L77.68 398.08 L77.92 398.61 L78.15 399.05 L78.38 399.25 L78.60 399.81 L78.92 400.40 L79.25 400.76 L79.56 401.23 L79.88 401.75 L80.19 402.17 L80.50 402.59 L80.80 403.20 L81.10 403.65 L81.40 403.96 L81.70 404.40 L81.99 404.79 L82.28 404.97 L82.57 405.26 L82.86 405.42 L83.14 406.75 L83.42 406.61 L83.70 407.13 L83.98 408.16 L84.25 407.58 L84.53 408.32 L84.80 407.86 L85.23 408.62 L85.64 409.56 L86.03 409.55 L86.41 409.42 L86.79 409.68 L87.16 410.71 L87.53 410.47 L87.91 411.37 L88.29 411.47 L88.69 411.49 L89.11 411.86 L89.54 412.48 L90.00 412.51 L90.38 412.38 L90.76 413.15 L91.14 413.13 L91.52 413.43 L91.90 414.00 L92.29 414.15 L92.69 414.68 L93.10 414.46 L93.52 414.62 L93.97 414.94 L94.43 415.50 L94.91 415.33 L95.41 415.82 L95.95 415.96 L96.51 416.33 L97.10 416.93 L97.46 418.17 L97.84 417.30 L98.24 417.80 L98.65 417.99 L99.09 418.15 L99.53 418.50 L99.99 419.54 L100.46 418.96 L100.94 419.98 L101.42 419.90 L101.91 419.61 L102.41 420.00 L102.90 420.37 L103.40 420.43 L103.90 421.61 L104.39 421.62 L104.88 421.96 L105.36 421.64 L105.84 422.51 L106.31 422.40 L106.76 423.83 L107.20 423.11 L107.63 423.51 L108.04 423.81 L108.44 423.70 L108.81 423.95 L109.17 424.15 L109.50 424.83 L110.19 424.61 L110.78 425.18 L111.28 425.66 L111.71 425.63 L112.10 425.47 L112.46 425.73 L112.81 426.22 L113.16 426.17 L113.54 427.09 L113.96 426.90 L114.44 427.07 L115.00 426.91 L115.40 427.65 L115.81 427.46 L116.22 427.37 L116.63 427.64 L117.05 428.95 L117.48 427.93 L117.92 427.97 L118.38 428.89 L118.84 428.87 L119.33 428.62 L119.83 429.41 L120.35 428.45 L120.90 428.99 L121.46 428.69 L122.05 430.02 L122.67 429.67 L123.32 430.82 L124.00 430.17 L124.39 430.28 L124.79 429.76 L125.19 429.84 L125.60 430.22 L126.02 430.87 L126.44 430.22 L126.86 429.81 L127.30 431.18 L127.74 431.31 L128.18 430.72 L128.63 431.36 L129.09 431.74 L129.56 431.88 L130.03 430.93 L130.51 431.68 L131.00 431.48 L131.50 432.27 L132.00 432.06 L132.51 431.67 L133.03 432.30 L133.56 432.61 L134.10 431.90 L134.65 432.10 L135.20 432.48 L135.77 432.75 L136.34 432.77 L136.93 432.39 L137.52 432.62 L138.13 433.33 L138.74 433.63 L139.36 433.24 L140.00 433.77 L140.42 434.52 L140.84 433.78 L141.28 433.77 L141.73 433.74 L142.19 434.28 L142.65 434.27 L143.13 434.36 L143.61 434.20 L144.10 434.59 L144.60 434.68 L145.11 434.55 L145.62 435.14 L146.14 434.17 L146.66 435.14 L147.19 434.90 L147.73 435.36 L148.26 435.86 L148.80 435.23 L149.35 435.22 L149.89 435.37 L150.44 436.01 L150.99 436.15 L151.54 435.70 L152.09 435.97 L152.64 436.51 L153.19 436.10 L153.74 435.38 L154.29 435.73 L154.83 435.95 L155.38 436.37 L155.92 436.07 L156.46 436.92 L156.99 436.26 L157.52 437.14 L158.04 436.34 L158.56 437.20 L159.08 436.82 L159.58 437.38 L160.08 437.66 L160.58 437.64 L161.06 437.43 L161.54 436.79 L162.01 436.82 L162.47 435.95 L162.92 437.84 L163.35 437.82 L163.78 437.77 L164.20 436.98 L164.61 438.56 L165.00 437.25 L165.71 437.94 L166.41 437.03 L167.10 437.50 L167.77 438.28 L168.43 438.26 L169.08 437.47 L169.71 437.91 L170.32 438.42 L170.93 437.28 L171.51 438.34 L172.08 437.45 L172.64 438.33 L173.17 438.00 L173.70 438.50 L174.20 437.92 L174.69 437.99 L175.15 438.00 L175.60 437.76 L176.03 438.04 L176.44 437.75 L176.83 437.93 L177.21 438.43 L177.56 438.04 L177.89 438.60 L178.20 438.46 L178.48 438.52 L178.75 437.75" fill="none" stroke="#000" stroke-width="1.8" stroke-linejoin="round" stroke-linecap="round" />
<path d="M49.60 322.77 L50.03 322.87 L50.65 323.04 L51.32 322.96 L51.90 323.35 L52.51 322.78 L53.05 322.72 L53.50 322.57 L53.70 322.62 L53.81 322.67 L53.96 323.12 L54.30 324.44 L54.37 324.76 L54.45 325.31 L54.53 325.40 L54.62 325.81 L54.71 326.14 L54.80 326.58 L54.90 327.03 L55.00 327.55 L55.11 327.95 L55.21 328.42 L55.32 328.88 L55.44 329.48 L55.55 329.82 L55.67 330.53 L55.79 331.22 L55.91 331.52 L56.03 332.17 L56.15 333.08 L56.28 333.20 L56.40 333.70 L56.53 334.43 L56.65 335.29 L56.78 335.90 L56.91 336.10 L57.03 336.91 L57.15 337.43 L57.28 337.95 L57.40 338.37 L57.49 339.17 L57.59 339.40 L57.68 340.01 L57.78 340.46 L57.88 341.15 L57.98 341.56 L58.08 341.78 L58.18 342.40 L58.28 343.07 L58.39 343.30 L58.49 343.93 L58.59 344.54 L58.70 344.85 L58.81 345.42 L58.91 345.90 L59.02 346.68 L59.12 347.11 L59.23 347.83 L59.33 348.27 L59.44 348.86 L59.54 349.32 L59.65 349.95 L59.75 350.37 L59.86 350.79 L59.96 351.57 L60.06 352.07 L60.16 352.73 L60.26 352.94 L60.36 353.39 L60.46 353.77 L60.56 353.96 L60.65 354.74 L60.74 355.42 L60.84 355.71 L60.93 355.94 L61.01 356.76 L61.10 357.03 L61.23 357.68 L61.36 358.29 L61.49 358.94 L61.61 359.61 L61.74 359.93 L61.86 360.69 L61.98 361.22 L62.10 361.97 L62.22 362.25 L62.34 363.10 L62.45 363.49 L62.56 364.12 L62.67 364.33 L62.78 365.00 L62.88 365.41 L62.99 365.65 L63.08 366.24 L63.18 366.65 L63.28 367.00 L63.37 367.43 L63.45 367.74 L63.54 368.23 L63.62 368.69 L63.70 368.91 L63.87 369.58 L63.97 370.42 L64.03 370.61 L64.07 370.93 L64.12 371.15 L64.19 371.42 L64.32 372.00 L64.51 372.51 L64.80 373.50 L64.90 373.65 L65.01 373.98 L65.13 374.50 L65.25 375.17 L65.38 375.37 L65.52 376.01 L65.66 376.28 L65.80 376.74 L65.96 377.08 L66.11 377.64 L66.27 378.35 L66.43 378.79 L66.60 379.08 L66.77 379.63 L66.94 380.37 L67.12 380.69 L67.30 381.40 L67.48 381.72 L67.66 382.45 L67.85 383.11 L68.03 383.57 L68.22 384.04 L68.41 384.56 L68.59 385.07 L68.78 385.61 L68.97 386.28 L69.16 386.79 L69.35 387.20 L69.53 387.50 L69.72 388.07 L69.90 388.64 L70.09 389.10 L70.29 389.42 L70.48 390.15 L70.68 390.86 L70.87 390.89 L71.07 391.52 L71.26 392.18 L71.46 392.41 L71.66 392.88 L71.86 393.42 L72.06 393.94 L72.26 394.28 L72.47 394.92 L72.67 395.03 L72.88 395.80 L73.09 396.23 L73.30 396.63 L73.52 397.15 L73.73 397.57 L73.95 398.19 L74.18 398.43 L74.41 398.95 L74.64 399.25 L74.87 399.74 L75.11 400.31 L75.35 400.61 L75.60 401.16 L75.85 401.57 L76.10 402.14 L76.34 402.64 L76.58 403.18 L76.83 403.27 L77.09 403.93 L77.36 404.51 L77.63 405.03 L77.90 405.50 L78.18 405.62 L78.46 406.20 L78.75 406.79 L79.04 407.30 L79.33 407.69 L79.63 408.16 L79.92 408.62 L80.22 408.96 L80.51 409.53 L80.81 410.06 L81.10 410.23 L81.39 411.50 L81.68 409.73 L81.97 411.55 L82.26 413.09 L82.54 413.05 L82.81 413.77 L83.08 413.45 L83.35 413.10 L83.61 413.85 L83.86 415.33 L84.11 413.83 L84.35 414.65 L84.58 414.55 L84.80 415.51 L85.24 416.16 L85.63 417.22 L85.99 416.89 L86.31 418.67 L86.61 418.42 L86.90 418.10 L87.18 418.09 L87.46 418.07 L87.74 419.22 L88.04 420.51 L88.36 419.61 L88.71 419.45 L89.09 420.34 L89.52 420.50 L90.00 420.75 L90.28 420.50 L90.58 421.81 L90.87 422.97 L91.18 423.15 L91.49 423.34 L91.80 423.26 L92.13 423.75 L92.46 424.41 L92.79 424.18 L93.14 424.74 L93.48 424.74 L93.84 425.96 L94.20 425.21 L94.57 426.48 L94.95 426.96 L95.33 427.34 L95.72 427.66 L96.12 427.40 L96.52 427.73 L96.93 428.20 L97.35 428.60 L97.77 428.57 L98.20 429.32 L98.64 429.58 L99.09 429.78 L99.54 430.86 L100.00 430.59 L100.37 431.42 L100.76 432.37 L101.16 432.77 L101.57 432.14 L101.98 432.97 L102.41 432.83 L102.85 434.29 L103.29 434.17 L103.74 434.16 L104.20 433.75 L104.66 433.98 L105.13 434.70 L105.60 434.67 L106.07 434.83 L106.55 435.63 L107.02 434.84 L107.50 434.70 L107.98 435.52 L108.45 435.72 L108.93 436.58 L109.40 436.41 L109.87 437.05 L110.34 436.30 L110.80 438.49 L111.26 438.15 L111.71 437.70 L112.15 438.60 L112.59 439.35 L113.02 439.37 L113.43 439.09 L113.84 439.70 L114.24 440.07 L114.63 439.13 L115.00 439.21 L115.55 439.99 L116.08 441.16 L116.58 441.71 L117.05 441.23 L117.51 442.25 L117.95 442.21 L118.38 441.85 L118.79 441.71 L119.20 441.98 L119.60 442.59 L120.00 443.53 L120.40 443.42 L120.80 442.44 L121.21 442.68 L121.62 444.00 L122.05 443.86 L122.49 443.43 L122.95 444.53 L123.42 445.11 L123.92 445.01 L124.45 444.84 L125.00 445.75 L125.41 444.96 L125.84 445.01 L126.28 444.99 L126.73 446.72 L127.19 447.01 L127.66 445.98 L128.15 446.51 L128.64 446.60 L129.14 447.04 L129.64 447.35 L130.16 447.24 L130.67 446.99 L131.19 446.92 L131.71 446.82 L132.24 446.10 L132.76 447.67 L133.29 447.43 L133.81 448.07 L134.33 448.16 L134.84 447.82 L135.36 448.27 L135.86 448.93 L136.36 448.96 L136.85 448.53 L137.34 448.75 L137.81 449.63 L138.27 449.59 L138.72 449.78 L139.16 449.65 L139.59 450.29 L140.00 450.06 L140.61 451.60 L141.18 450.13 L141.72 450.18 L142.24 451.65 L142.73 450.86 L143.21 450.63 L143.67 451.45 L144.12 450.08 L144.56 451.74 L145.00 451.64 L145.44 451.92 L145.88 451.46 L146.33 452.76 L146.79 452.34 L147.27 452.29 L147.76 452.64 L148.28 452.12 L148.82 452.65 L149.39 452.03 L150.00 452.40 L150.42 453.27 L150.86 453.27 L151.30 453.72 L151.76 453.05 L152.23 453.46 L152.70 453.24 L153.18 453.87 L153.67 454.26 L154.17 454.52 L154.68 454.35 L155.19 453.71 L155.70 454.37 L156.22 453.78 L156.74 453.40 L157.27 454.66 L157.79 454.71 L158.32 455.18 L158.85 455.32 L159.38 454.29 L159.91 454.57 L160.43 455.17 L160.96 455.31 L161.48 455.59 L162.00 454.74 L162.51 455.41 L163.02 456.00 L163.53 456.78 L164.03 455.13 L164.52 456.80 L165.00 455.83 L165.54 455.29 L166.09 456.91 L166.66 455.68 L167.23 455.72 L167.82 456.84 L168.40 457.11 L169.00 456.66 L169.59 456.32 L170.19 455.98 L170.78 456.95 L171.37 455.68 L171.95 456.25 L172.53 457.71 L173.09 457.55 L173.65 457.96 L174.19 457.58 L174.72 456.80 L175.23 457.76 L175.72 456.57 L176.19 458.01 L176.64 458.44 L177.07 457.19 L177.46 458.36 L177.83 457.87 L178.17 457.81 L178.48 456.85 L178.75 457.89" fill="none" stroke="#000" stroke-width="2.1" stroke-linejoin="round" stroke-linecap="round" />
<path d="M118 351 L121 350.6 L123 351.5 L126 350.8 L129.5 351.3" fill="none" stroke="#000" stroke-width="1.5"/>
<text x="184.5" y="355.2" font-size="11.8" text-anchor="start" font-weight="normal" >OxHDL</text>
<text x="184.5" y="441.4" font-size="11.8" text-anchor="start" font-weight="normal" >HDL</text>
<text x="184.5" y="461.4" font-size="11.8" text-anchor="start" font-weight="normal" >NA</text>
<text x="53.6" y="472.4" font-size="11.5" text-anchor="start" font-weight="normal" >1 min</text>
<line x1="51.1" y1="478.8" x2="85.8" y2="478.8" stroke="#000" stroke-width="1.3"/>
<text x="246.4" y="255" font-size="25.6" text-anchor="start" font-weight="bold" style="stroke-width:0.35px">D</text>
<line x1="286.7" y1="282.0" x2="286.7" y2="454.0" stroke="#000" stroke-width="1.2"/>
<line x1="286.7" y1="453.50" x2="289.8" y2="453.50" stroke="#000" stroke-width="1.1"/>
<text x="281.3" y="457.6" font-size="11.5" text-anchor="end" font-weight="normal" >0</text>
<line x1="286.7" y1="419.30" x2="289.8" y2="419.30" stroke="#000" stroke-width="1.1"/>
<text x="281.3" y="423.40000000000003" font-size="11.5" text-anchor="end" font-weight="normal" >20</text>
<line x1="286.7" y1="385.10" x2="289.8" y2="385.10" stroke="#000" stroke-width="1.1"/>
<text x="281.3" y="389.20000000000005" font-size="11.5" text-anchor="end" font-weight="normal" >40</text>
<line x1="286.7" y1="350.90" x2="289.8" y2="350.90" stroke="#000" stroke-width="1.1"/>
<text x="281.3" y="355.0" font-size="11.5" text-anchor="end" font-weight="normal" >60</text>
<line x1="286.7" y1="316.70" x2="289.8" y2="316.70" stroke="#000" stroke-width="1.1"/>
<text x="281.3" y="320.8" font-size="11.5" text-anchor="end" font-weight="normal" >80</text>
<line x1="286.7" y1="282.50" x2="289.8" y2="282.50" stroke="#000" stroke-width="1.1"/>
<text x="281.3" y="286.6" font-size="11.5" text-anchor="end" font-weight="normal" >100</text>
<text transform="translate(257.2,378.9) rotate(-90)" font-size="11.8" text-anchor="middle">Maximum amplitude (%)</text>
<rect x="297.0" y="310.54" width="14.5" height="142.96" fill="#000"/>
<line x1="304.25" y1="296.68" x2="304.25" y2="310.54" stroke="#000" stroke-width="1.2"/>
<line x1="301.15" y1="296.68" x2="307.35" y2="296.68" stroke="#000" stroke-width="1.3"/>
<text transform="translate(298.65,465.80) rotate(45)" font-size="11.8">NA</text>
<rect x="316.0" y="321.83" width="14.5" height="131.67" fill="#000"/>
<line x1="323.25" y1="311.73" x2="323.25" y2="321.83" stroke="#000" stroke-width="1.2"/>
<line x1="320.15" y1="311.73" x2="326.35" y2="311.73" stroke="#000" stroke-width="1.3"/>
<text transform="translate(317.65,465.80) rotate(45)" font-size="11.8">HDL</text>
<rect x="335.0" y="317.04" width="14.5" height="136.46" fill="#000"/>
<line x1="342.25" y1="308.31" x2="342.25" y2="317.04" stroke="#000" stroke-width="1.2"/>
<line x1="339.15" y1="308.31" x2="345.35" y2="308.31" stroke="#000" stroke-width="1.3"/>
<text transform="translate(336.65,465.80) rotate(45)" font-size="11.8">LDL</text>
<rect x="354.0" y="433.32" width="14.5" height="20.18" fill="#000"/>
<line x1="361.25" y1="423.05" x2="361.25" y2="433.32" stroke="#000" stroke-width="1.2"/>
<line x1="358.15" y1="423.05" x2="364.35" y2="423.05" stroke="#000" stroke-width="1.3"/>
<text transform="translate(355.65,465.80) rotate(45)" font-size="11.8">OxHDL</text>
<rect x="383.5" y="329.01" width="14.5" height="124.49" fill="#000"/>
<line x1="390.75" y1="323.87" x2="390.75" y2="329.01" stroke="#000" stroke-width="1.2"/>
<line x1="387.65" y1="323.87" x2="393.85" y2="323.87" stroke="#000" stroke-width="1.3"/>
<text transform="translate(385.15,465.80) rotate(45)" font-size="11.8">NA</text>
<rect x="402.0" y="327.81" width="14.5" height="125.69" fill="#000"/>
<line x1="409.25" y1="324.21" x2="409.25" y2="327.81" stroke="#000" stroke-width="1.2"/>
<line x1="406.15" y1="324.21" x2="412.35" y2="324.21" stroke="#000" stroke-width="1.3"/>
<text transform="translate(403.65,465.80) rotate(45)" font-size="11.8">HDL</text>
<rect x="420.5" y="374.16" width="14.5" height="79.34" fill="#000"/>
<line x1="427.75" y1="368.84" x2="427.75" y2="374.16" stroke="#000" stroke-width="1.2"/>
<line x1="424.65" y1="368.84" x2="430.85" y2="368.84" stroke="#000" stroke-width="1.3"/>
<text transform="translate(422.15,465.80) rotate(45)" font-size="11.8">OxHDL</text>
<rect x="448.5" y="379.29" width="14.5" height="74.21" fill="#000"/>
<line x1="455.75" y1="367.99" x2="455.75" y2="379.29" stroke="#000" stroke-width="1.2"/>
<line x1="452.65" y1="367.99" x2="458.85" y2="367.99" stroke="#000" stroke-width="1.3"/>
<text transform="translate(450.15,465.80) rotate(45)" font-size="11.8">NA</text>
<rect x="467.2" y="374.16" width="14.5" height="79.34" fill="#000"/>
<line x1="474.45" y1="365.08" x2="474.45" y2="374.16" stroke="#000" stroke-width="1.2"/>
<line x1="471.34999999999997" y1="365.08" x2="477.55" y2="365.08" stroke="#000" stroke-width="1.3"/>
<text transform="translate(468.85,465.80) rotate(45)" font-size="11.8">HDL</text>
<rect x="486.5" y="424.09" width="14.5" height="29.41" fill="#000"/>
<line x1="493.75" y1="414.84" x2="493.75" y2="424.09" stroke="#000" stroke-width="1.2"/>
<line x1="490.65" y1="414.84" x2="496.85" y2="414.84" stroke="#000" stroke-width="1.3"/>
<text transform="translate(488.15,465.80) rotate(45)" font-size="11.8">OxHDL</text>
<circle cx="361.3" cy="412.5" r="1.45" fill="#000"/>
<circle cx="427.6" cy="359.5" r="1.45" fill="#000"/>
<circle cx="493.6" cy="405.4" r="1.45" fill="#000"/>
<line x1="297.4" y1="501.5" x2="369.1" y2="501.5" stroke="#000" stroke-width="1"/>
<text x="332.4" y="514.1" font-size="11.5" text-anchor="middle" font-weight="normal" >Thrombin</text>
<line x1="385.2" y1="501.5" x2="435.9" y2="501.5" stroke="#000" stroke-width="1"/>
<text x="411" y="514.1" font-size="11.5" text-anchor="middle" font-weight="normal" >Collagen</text>
<line x1="451" y1="501.5" x2="502.7" y2="501.5" stroke="#000" stroke-width="1"/>
<text x="474.3" y="514.1" font-size="11.5" text-anchor="middle" font-weight="normal" >ADP</text>
</svg></body></html>
